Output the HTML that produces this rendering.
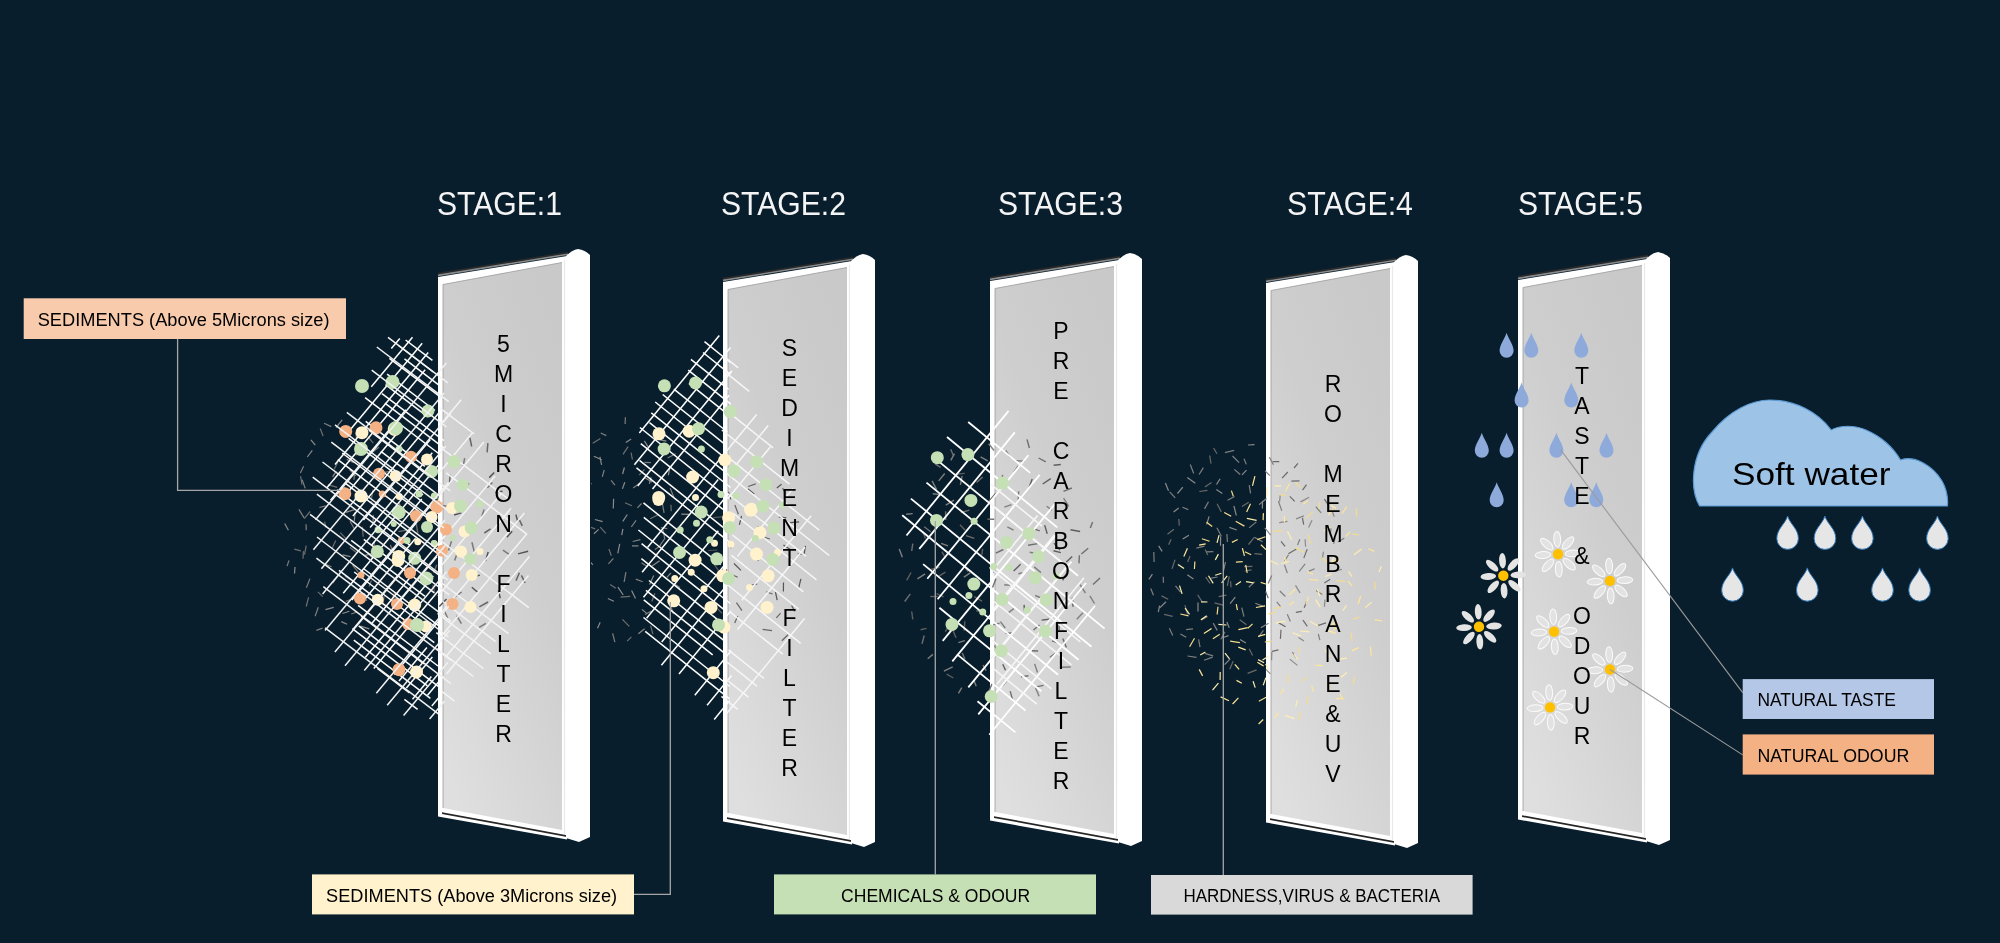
<!DOCTYPE html><html><head><meta charset="utf-8"><style>html,body{margin:0;padding:0;background:#081e2c;}svg{display:block;will-change:transform}</style></head><body>
<svg width="2000" height="943" viewBox="0 0 2000 943">
<defs>
<linearGradient id="gpanel" x1="0.8" y1="0" x2="0.2" y2="1">
<stop offset="0" stop-color="#c9c9c9"/><stop offset="0.4" stop-color="#cecece"/><stop offset="1" stop-color="#dfdfdf"/>
</linearGradient>
<linearGradient id="bevel" x1="0" y1="0" x2="0" y2="1">
<stop offset="0" stop-color="#101c24"/><stop offset="0.45" stop-color="#3c3c3c"/><stop offset="0.8" stop-color="#9a9a9a"/><stop offset="1" stop-color="#f0f0f0"/>
</linearGradient>
</defs>
<rect width="2000" height="943" fill="#081e2c"/>
<text x="437.0" y="215" font-family='"Liberation Sans", sans-serif' font-size="33" fill="#f4f4f4" textLength="125.0" lengthAdjust="spacingAndGlyphs">STAGE:1</text>
<text x="721.0" y="215" font-family='"Liberation Sans", sans-serif' font-size="33" fill="#f4f4f4" textLength="125.0" lengthAdjust="spacingAndGlyphs">STAGE:2</text>
<text x="998.0" y="215" font-family='"Liberation Sans", sans-serif' font-size="33" fill="#f4f4f4" textLength="125.0" lengthAdjust="spacingAndGlyphs">STAGE:3</text>
<text x="1287.0" y="215" font-family='"Liberation Sans", sans-serif' font-size="33" fill="#f4f4f4" textLength="126.0" lengthAdjust="spacingAndGlyphs">STAGE:4</text>
<text x="1518.0" y="215" font-family='"Liberation Sans", sans-serif' font-size="33" fill="#f4f4f4" textLength="125.0" lengthAdjust="spacingAndGlyphs">STAGE:5</text>
<polyline points="438.0,273.7 568.0,252.5" fill="none" stroke="#2a2a2a" stroke-width="1.7"/>
<polyline points="438.0,275.4 568.0,254.2" fill="none" stroke="#8c8c8c" stroke-width="1.6"/>
<polygon points="438.0,277.0 567.0,256.0 567.0,839.5 438.0,816.5" fill="#ffffff"/>
<polygon points="443.0,284.5 562.0,262.5 562.0,830.0 443.0,808.0" fill="url(#gpanel)"/>
<polyline points="443.0,808.0 443.0,284.5 562.0,262.5" fill="none" stroke="#9a9a9a" stroke-width="0.8"/>
<polyline points="564.5,260.0 564.5,834.0" fill="none" stroke="#e9e9e9" stroke-width="1.2"/>
<polygon points="442.0,812.2 567.0,835.2 567.0,836.9 442.0,813.9" fill="#262626"/>
<path d="M566.0,256.0 Q572.0,250.0 578.0,249.0 Q585.0,250.0 590.0,255.0 L590.0,837.0 L579.0,842.0 L566.0,838.0 Z" fill="#ffffff"/>
<polyline points="723.0,278.7 853.0,257.5" fill="none" stroke="#2a2a2a" stroke-width="1.7"/>
<polyline points="723.0,280.4 853.0,259.2" fill="none" stroke="#8c8c8c" stroke-width="1.6"/>
<polygon points="723.0,282.0 852.0,261.0 852.0,844.5 723.0,821.5" fill="#ffffff"/>
<polygon points="728.0,289.5 847.0,267.5 847.0,835.0 728.0,813.0" fill="url(#gpanel)"/>
<polyline points="728.0,813.0 728.0,289.5 847.0,267.5" fill="none" stroke="#9a9a9a" stroke-width="0.8"/>
<polyline points="849.5,265.0 849.5,839.0" fill="none" stroke="#e9e9e9" stroke-width="1.2"/>
<polygon points="727.0,817.2 852.0,840.2 852.0,841.9 727.0,818.9" fill="#262626"/>
<path d="M851.0,261.0 Q857.0,255.0 863.0,254.0 Q870.0,255.0 875.0,260.0 L875.0,842.0 L864.0,847.0 L851.0,843.0 Z" fill="#ffffff"/>
<polyline points="990.0,277.7 1120.0,256.5" fill="none" stroke="#2a2a2a" stroke-width="1.7"/>
<polyline points="990.0,279.4 1120.0,258.2" fill="none" stroke="#8c8c8c" stroke-width="1.6"/>
<polygon points="990.0,281.0 1119.0,260.0 1119.0,843.5 990.0,820.5" fill="#ffffff"/>
<polygon points="995.0,288.5 1114.0,266.5 1114.0,834.0 995.0,812.0" fill="url(#gpanel)"/>
<polyline points="995.0,812.0 995.0,288.5 1114.0,266.5" fill="none" stroke="#9a9a9a" stroke-width="0.8"/>
<polyline points="1116.5,264.0 1116.5,838.0" fill="none" stroke="#e9e9e9" stroke-width="1.2"/>
<polygon points="994.0,816.2 1119.0,839.2 1119.0,840.9 994.0,817.9" fill="#262626"/>
<path d="M1118.0,260.0 Q1124.0,254.0 1130.0,253.0 Q1137.0,254.0 1142.0,259.0 L1142.0,841.0 L1131.0,846.0 L1118.0,842.0 Z" fill="#ffffff"/>
<polyline points="1266.0,279.7 1396.0,258.5" fill="none" stroke="#2a2a2a" stroke-width="1.7"/>
<polyline points="1266.0,281.4 1396.0,260.2" fill="none" stroke="#8c8c8c" stroke-width="1.6"/>
<polygon points="1266.0,283.0 1395.0,262.0 1395.0,845.5 1266.0,822.5" fill="#ffffff"/>
<polygon points="1271.0,290.5 1390.0,268.5 1390.0,836.0 1271.0,814.0" fill="url(#gpanel)"/>
<polyline points="1271.0,814.0 1271.0,290.5 1390.0,268.5" fill="none" stroke="#9a9a9a" stroke-width="0.8"/>
<polyline points="1392.5,266.0 1392.5,840.0" fill="none" stroke="#e9e9e9" stroke-width="1.2"/>
<polygon points="1270.0,818.2 1395.0,841.2 1395.0,842.9 1270.0,819.9" fill="#262626"/>
<path d="M1394.0,262.0 Q1400.0,256.0 1406.0,255.0 Q1413.0,256.0 1418.0,261.0 L1418.0,843.0 L1407.0,848.0 L1394.0,844.0 Z" fill="#ffffff"/>
<polyline points="1518.0,276.7 1648.0,255.5" fill="none" stroke="#2a2a2a" stroke-width="1.7"/>
<polyline points="1518.0,278.4 1648.0,257.2" fill="none" stroke="#8c8c8c" stroke-width="1.6"/>
<polygon points="1518.0,280.0 1647.0,259.0 1647.0,842.5 1518.0,819.5" fill="#ffffff"/>
<polygon points="1523.0,287.5 1642.0,265.5 1642.0,833.0 1523.0,811.0" fill="url(#gpanel)"/>
<polyline points="1523.0,811.0 1523.0,287.5 1642.0,265.5" fill="none" stroke="#9a9a9a" stroke-width="0.8"/>
<polyline points="1644.5,263.0 1644.5,837.0" fill="none" stroke="#e9e9e9" stroke-width="1.2"/>
<polygon points="1522.0,815.2 1647.0,838.2 1647.0,839.9 1522.0,816.9" fill="#262626"/>
<path d="M1646.0,259.0 Q1652.0,253.0 1658.0,252.0 Q1665.0,253.0 1670.0,258.0 L1670.0,840.0 L1659.0,845.0 L1646.0,841.0 Z" fill="#ffffff"/>
<g id="s1">
<line x1="324.0" y1="423.3" x2="331.3" y2="426.6" stroke="#7f7f7f" stroke-width="1.2"/>
<line x1="342.2" y1="419.8" x2="336.1" y2="427.6" stroke="#8c8c8c" stroke-width="1.2"/>
<line x1="366.4" y1="426.8" x2="361.0" y2="430.2" stroke="#8c8c8c" stroke-width="1.2"/>
<line x1="310.9" y1="439.9" x2="315.3" y2="445.1" stroke="#8c8c8c" stroke-width="1.2"/>
<line x1="320.2" y1="428.5" x2="323.1" y2="436.0" stroke="#6f6f6f" stroke-width="1.2"/>
<line x1="342.4" y1="429.1" x2="347.5" y2="436.9" stroke="#6f6f6f" stroke-width="1.2"/>
<line x1="355.8" y1="433.0" x2="356.7" y2="439.2" stroke="#7f7f7f" stroke-width="1.2"/>
<line x1="367.8" y1="436.7" x2="373.2" y2="443.1" stroke="#6f6f6f" stroke-width="1.2"/>
<line x1="312.3" y1="450.4" x2="307.3" y2="457.0" stroke="#8c8c8c" stroke-width="1.2"/>
<line x1="337.8" y1="462.2" x2="334.1" y2="469.6" stroke="#6f6f6f" stroke-width="1.2"/>
<line x1="346.7" y1="459.4" x2="353.8" y2="462.7" stroke="#7f7f7f" stroke-width="1.2"/>
<line x1="361.0" y1="450.6" x2="355.7" y2="455.2" stroke="#7f7f7f" stroke-width="1.2"/>
<line x1="378.9" y1="447.2" x2="370.9" y2="453.2" stroke="#7f7f7f" stroke-width="1.2"/>
<line x1="300.6" y1="476.2" x2="302.0" y2="484.6" stroke="#6f6f6f" stroke-width="1.2"/>
<line x1="303.6" y1="466.2" x2="300.4" y2="472.9" stroke="#7f7f7f" stroke-width="1.2"/>
<line x1="336.3" y1="471.1" x2="332.6" y2="476.8" stroke="#8c8c8c" stroke-width="1.2"/>
<line x1="349.6" y1="469.6" x2="355.7" y2="475.9" stroke="#8c8c8c" stroke-width="1.2"/>
<line x1="354.6" y1="473.6" x2="353.9" y2="479.8" stroke="#7f7f7f" stroke-width="1.2"/>
<line x1="380.8" y1="467.8" x2="385.7" y2="473.4" stroke="#6f6f6f" stroke-width="1.2"/>
<line x1="392.4" y1="471.0" x2="384.5" y2="472.3" stroke="#7f7f7f" stroke-width="1.2"/>
<line x1="302.2" y1="479.7" x2="305.2" y2="488.4" stroke="#7f7f7f" stroke-width="1.2"/>
<line x1="327.9" y1="484.7" x2="337.2" y2="487.3" stroke="#6f6f6f" stroke-width="1.2"/>
<line x1="344.2" y1="486.9" x2="346.9" y2="494.3" stroke="#7f7f7f" stroke-width="1.2"/>
<line x1="358.1" y1="491.0" x2="354.4" y2="499.9" stroke="#8c8c8c" stroke-width="1.2"/>
<line x1="372.9" y1="489.7" x2="371.6" y2="498.2" stroke="#6f6f6f" stroke-width="1.2"/>
<line x1="392.9" y1="487.2" x2="385.1" y2="493.1" stroke="#8c8c8c" stroke-width="1.2"/>
<line x1="298.9" y1="509.4" x2="304.1" y2="517.9" stroke="#7f7f7f" stroke-width="1.2"/>
<line x1="310.1" y1="511.5" x2="304.2" y2="518.6" stroke="#6f6f6f" stroke-width="1.2"/>
<line x1="325.7" y1="505.9" x2="319.4" y2="507.5" stroke="#7f7f7f" stroke-width="1.2"/>
<line x1="355.2" y1="509.4" x2="345.8" y2="512.4" stroke="#8c8c8c" stroke-width="1.2"/>
<line x1="355.2" y1="512.3" x2="354.2" y2="521.4" stroke="#8c8c8c" stroke-width="1.2"/>
<line x1="370.6" y1="501.1" x2="376.6" y2="507.6" stroke="#7f7f7f" stroke-width="1.2"/>
<line x1="398.7" y1="502.8" x2="401.6" y2="508.4" stroke="#8c8c8c" stroke-width="1.2"/>
<line x1="284.7" y1="523.5" x2="288.4" y2="530.3" stroke="#8c8c8c" stroke-width="1.2"/>
<line x1="306.0" y1="524.2" x2="306.3" y2="530.3" stroke="#7f7f7f" stroke-width="1.2"/>
<line x1="324.6" y1="521.7" x2="326.0" y2="527.7" stroke="#6f6f6f" stroke-width="1.2"/>
<line x1="350.0" y1="521.3" x2="354.6" y2="529.2" stroke="#7f7f7f" stroke-width="1.2"/>
<line x1="362.3" y1="526.8" x2="363.2" y2="536.7" stroke="#6f6f6f" stroke-width="1.2"/>
<line x1="373.4" y1="515.3" x2="372.9" y2="524.0" stroke="#8c8c8c" stroke-width="1.2"/>
<line x1="406.4" y1="530.2" x2="398.5" y2="531.6" stroke="#6f6f6f" stroke-width="1.2"/>
<line x1="294.3" y1="549.1" x2="300.9" y2="550.9" stroke="#6f6f6f" stroke-width="1.2"/>
<line x1="306.2" y1="545.6" x2="304.5" y2="554.7" stroke="#6f6f6f" stroke-width="1.2"/>
<line x1="335.7" y1="540.6" x2="332.3" y2="547.9" stroke="#6f6f6f" stroke-width="1.2"/>
<line x1="340.2" y1="532.6" x2="346.2" y2="538.9" stroke="#6f6f6f" stroke-width="1.2"/>
<line x1="349.9" y1="547.5" x2="357.4" y2="553.2" stroke="#6f6f6f" stroke-width="1.2"/>
<line x1="374.4" y1="541.8" x2="373.7" y2="550.1" stroke="#7f7f7f" stroke-width="1.2"/>
<line x1="390.5" y1="544.9" x2="392.3" y2="551.1" stroke="#7f7f7f" stroke-width="1.2"/>
<line x1="289.0" y1="560.4" x2="287.0" y2="566.1" stroke="#7f7f7f" stroke-width="1.2"/>
<line x1="303.4" y1="551.1" x2="303.0" y2="558.7" stroke="#6f6f6f" stroke-width="1.2"/>
<line x1="325.6" y1="564.3" x2="331.5" y2="566.7" stroke="#7f7f7f" stroke-width="1.2"/>
<line x1="342.5" y1="554.9" x2="350.4" y2="556.6" stroke="#8c8c8c" stroke-width="1.2"/>
<line x1="373.1" y1="553.3" x2="364.1" y2="555.6" stroke="#8c8c8c" stroke-width="1.2"/>
<line x1="367.7" y1="552.6" x2="372.9" y2="558.5" stroke="#7f7f7f" stroke-width="1.2"/>
<line x1="392.3" y1="547.8" x2="396.9" y2="556.2" stroke="#8c8c8c" stroke-width="1.2"/>
<line x1="295.0" y1="567.0" x2="294.5" y2="573.5" stroke="#8c8c8c" stroke-width="1.2"/>
<line x1="309.9" y1="578.6" x2="306.4" y2="587.7" stroke="#7f7f7f" stroke-width="1.2"/>
<line x1="338.6" y1="575.2" x2="332.7" y2="583.2" stroke="#7f7f7f" stroke-width="1.2"/>
<line x1="344.9" y1="576.0" x2="350.6" y2="579.9" stroke="#6f6f6f" stroke-width="1.2"/>
<line x1="352.6" y1="565.1" x2="358.2" y2="572.1" stroke="#7f7f7f" stroke-width="1.2"/>
<line x1="371.5" y1="580.5" x2="369.1" y2="586.5" stroke="#6f6f6f" stroke-width="1.2"/>
<line x1="308.6" y1="597.4" x2="306.2" y2="606.5" stroke="#6f6f6f" stroke-width="1.2"/>
<line x1="317.9" y1="591.9" x2="322.7" y2="596.7" stroke="#6f6f6f" stroke-width="1.2"/>
<line x1="351.4" y1="599.2" x2="345.7" y2="601.4" stroke="#6f6f6f" stroke-width="1.2"/>
<line x1="364.4" y1="593.1" x2="366.6" y2="600.9" stroke="#7f7f7f" stroke-width="1.2"/>
<line x1="384.1" y1="595.9" x2="382.9" y2="605.3" stroke="#6f6f6f" stroke-width="1.2"/>
<line x1="394.7" y1="593.0" x2="391.3" y2="600.3" stroke="#6f6f6f" stroke-width="1.2"/>
<line x1="318.3" y1="607.3" x2="315.1" y2="616.2" stroke="#7f7f7f" stroke-width="1.2"/>
<line x1="333.7" y1="607.4" x2="325.5" y2="609.6" stroke="#8c8c8c" stroke-width="1.2"/>
<line x1="349.4" y1="611.3" x2="342.4" y2="613.5" stroke="#8c8c8c" stroke-width="1.2"/>
<line x1="357.6" y1="611.7" x2="351.2" y2="614.0" stroke="#7f7f7f" stroke-width="1.2"/>
<line x1="322.6" y1="628.1" x2="316.4" y2="630.4" stroke="#7f7f7f" stroke-width="1.2"/>
<line x1="341.3" y1="621.6" x2="347.1" y2="624.2" stroke="#8c8c8c" stroke-width="1.2"/>
<line x1="360.4" y1="626.1" x2="369.3" y2="628.9" stroke="#8c8c8c" stroke-width="1.2"/>
<line x1="469.8" y1="437.7" x2="471.7" y2="446.5" stroke="#666666" stroke-width="1.5"/>
<line x1="487.9" y1="443.1" x2="487.1" y2="452.4" stroke="#666666" stroke-width="1.5"/>
<line x1="450.2" y1="474.7" x2="449.4" y2="483.6" stroke="#666666" stroke-width="1.5"/>
<line x1="464.7" y1="458.2" x2="463.1" y2="466.2" stroke="#7a7a7a" stroke-width="1.5"/>
<line x1="494.2" y1="472.5" x2="489.2" y2="477.6" stroke="#555555" stroke-width="1.5"/>
<line x1="439.1" y1="493.4" x2="436.6" y2="502.6" stroke="#666666" stroke-width="1.5"/>
<line x1="469.1" y1="483.4" x2="462.9" y2="489.3" stroke="#666666" stroke-width="1.5"/>
<line x1="492.4" y1="482.5" x2="487.4" y2="487.7" stroke="#7a7a7a" stroke-width="1.5"/>
<line x1="502.5" y1="491.3" x2="495.3" y2="492.5" stroke="#555555" stroke-width="1.5"/>
<line x1="413.6" y1="508.9" x2="415.5" y2="517.6" stroke="#555555" stroke-width="1.5"/>
<line x1="441.8" y1="505.5" x2="449.1" y2="506.5" stroke="#7a7a7a" stroke-width="1.5"/>
<line x1="461.4" y1="512.9" x2="454.1" y2="515.0" stroke="#555555" stroke-width="1.5"/>
<line x1="484.1" y1="509.6" x2="481.7" y2="516.7" stroke="#7a7a7a" stroke-width="1.5"/>
<line x1="515.9" y1="514.6" x2="517.8" y2="521.9" stroke="#555555" stroke-width="1.5"/>
<line x1="518.9" y1="518.9" x2="522.3" y2="525.8" stroke="#666666" stroke-width="1.5"/>
<line x1="416.2" y1="523.9" x2="417.9" y2="533.4" stroke="#666666" stroke-width="1.5"/>
<line x1="451.5" y1="541.3" x2="448.5" y2="550.4" stroke="#7a7a7a" stroke-width="1.5"/>
<line x1="471.9" y1="542.3" x2="474.4" y2="552.1" stroke="#7a7a7a" stroke-width="1.5"/>
<line x1="490.6" y1="528.9" x2="484.3" y2="533.0" stroke="#666666" stroke-width="1.5"/>
<line x1="512.2" y1="531.3" x2="506.9" y2="537.2" stroke="#555555" stroke-width="1.5"/>
<line x1="412.6" y1="560.6" x2="412.5" y2="568.8" stroke="#7a7a7a" stroke-width="1.5"/>
<line x1="436.8" y1="564.9" x2="433.6" y2="572.7" stroke="#666666" stroke-width="1.5"/>
<line x1="458.0" y1="551.0" x2="454.6" y2="560.4" stroke="#7a7a7a" stroke-width="1.5"/>
<line x1="488.2" y1="552.0" x2="485.5" y2="561.1" stroke="#555555" stroke-width="1.5"/>
<line x1="502.9" y1="550.2" x2="509.5" y2="554.7" stroke="#7a7a7a" stroke-width="1.5"/>
<line x1="528.1" y1="551.2" x2="518.0" y2="553.9" stroke="#555555" stroke-width="1.5"/>
<line x1="428.7" y1="573.6" x2="425.9" y2="580.0" stroke="#666666" stroke-width="1.5"/>
<line x1="432.8" y1="584.9" x2="435.0" y2="594.1" stroke="#555555" stroke-width="1.5"/>
<line x1="471.8" y1="587.2" x2="478.0" y2="592.5" stroke="#555555" stroke-width="1.5"/>
<line x1="479.9" y1="575.1" x2="472.5" y2="577.2" stroke="#555555" stroke-width="1.5"/>
<line x1="519.4" y1="572.8" x2="516.0" y2="580.6" stroke="#666666" stroke-width="1.5"/>
<line x1="521.4" y1="575.3" x2="525.1" y2="582.8" stroke="#666666" stroke-width="1.5"/>
<line x1="446.5" y1="599.0" x2="439.3" y2="606.5" stroke="#555555" stroke-width="1.5"/>
<line x1="461.6" y1="592.0" x2="454.5" y2="597.1" stroke="#7a7a7a" stroke-width="1.5"/>
<line x1="488.1" y1="602.0" x2="479.3" y2="606.9" stroke="#666666" stroke-width="1.5"/>
<line x1="498.4" y1="590.4" x2="500.3" y2="598.2" stroke="#555555" stroke-width="1.5"/>
<line x1="443.9" y1="609.5" x2="447.7" y2="618.3" stroke="#7a7a7a" stroke-width="1.5"/>
<line x1="456.6" y1="615.7" x2="461.4" y2="623.6" stroke="#7a7a7a" stroke-width="1.5"/>
<line x1="485.8" y1="623.4" x2="479.2" y2="627.4" stroke="#7a7a7a" stroke-width="1.5"/>
<line x1="391.3" y1="348.6" x2="399.8" y2="338.4" stroke="#ffffff" stroke-width="1.5"/>
<line x1="371.3" y1="386.7" x2="412.5" y2="337.3" stroke="#ffffff" stroke-width="1.5"/>
<line x1="349.4" y1="430.7" x2="422.2" y2="343.3" stroke="#ffffff" stroke-width="1.5"/>
<line x1="335.0" y1="464.4" x2="428.2" y2="352.6" stroke="#ffffff" stroke-width="1.5"/>
<line x1="326.7" y1="487.9" x2="425.2" y2="369.7" stroke="#ffffff" stroke-width="1.5"/>
<line x1="330.6" y1="500.2" x2="405.9" y2="409.8" stroke="#ffffff" stroke-width="1.5"/>
<line x1="344.1" y1="496.8" x2="401.5" y2="428.0" stroke="#ffffff" stroke-width="1.5"/>
<line x1="352.9" y1="516.0" x2="440.9" y2="410.4" stroke="#ffffff" stroke-width="1.5"/>
<line x1="363.4" y1="519.9" x2="430.3" y2="439.6" stroke="#ffffff" stroke-width="1.5"/>
<line x1="370.1" y1="527.5" x2="432.3" y2="452.8" stroke="#ffffff" stroke-width="1.5"/>
<line x1="371.7" y1="545.1" x2="438.9" y2="464.4" stroke="#ffffff" stroke-width="1.5"/>
<line x1="343.2" y1="593.3" x2="421.8" y2="498.9" stroke="#ffffff" stroke-width="1.5"/>
<line x1="351.8" y1="600.1" x2="432.4" y2="503.4" stroke="#ffffff" stroke-width="1.5"/>
<line x1="365.8" y1="598.0" x2="415.6" y2="538.3" stroke="#ffffff" stroke-width="1.5"/>
<line x1="353.3" y1="629.0" x2="406.2" y2="565.5" stroke="#ffffff" stroke-width="1.5"/>
<line x1="371.1" y1="624.2" x2="444.2" y2="536.5" stroke="#ffffff" stroke-width="1.5"/>
<line x1="394.7" y1="607.1" x2="436.9" y2="556.5" stroke="#ffffff" stroke-width="1.5"/>
<line x1="365.2" y1="657.6" x2="433.3" y2="576.0" stroke="#ffffff" stroke-width="1.5"/>
<line x1="373.8" y1="668.4" x2="440.3" y2="588.6" stroke="#ffffff" stroke-width="1.5"/>
<line x1="394.0" y1="674.5" x2="438.5" y2="621.2" stroke="#ffffff" stroke-width="1.5"/>
<line x1="399.0" y1="681.0" x2="426.9" y2="647.5" stroke="#ffffff" stroke-width="1.5"/>
<line x1="406.4" y1="688.1" x2="432.4" y2="656.9" stroke="#ffffff" stroke-width="1.5"/>
<line x1="412.5" y1="699.3" x2="431.4" y2="676.6" stroke="#ffffff" stroke-width="1.5"/>
<line x1="427.5" y1="695.2" x2="443.4" y2="676.2" stroke="#ffffff" stroke-width="1.5"/>
<line x1="431.8" y1="706.0" x2="441.8" y2="694.0" stroke="#ffffff" stroke-width="1.5"/>
<line x1="405.6" y1="340.0" x2="432.4" y2="360.4" stroke="#ffffff" stroke-width="1.5"/>
<line x1="398.5" y1="345.5" x2="433.3" y2="372.0" stroke="#ffffff" stroke-width="1.5"/>
<line x1="404.5" y1="358.9" x2="441.6" y2="387.1" stroke="#ffffff" stroke-width="1.5"/>
<line x1="389.4" y1="358.3" x2="440.6" y2="397.2" stroke="#ffffff" stroke-width="1.5"/>
<line x1="387.1" y1="374.2" x2="434.9" y2="410.5" stroke="#ffffff" stroke-width="1.5"/>
<line x1="385.5" y1="384.7" x2="427.8" y2="416.8" stroke="#ffffff" stroke-width="1.5"/>
<line x1="382.0" y1="393.6" x2="443.8" y2="440.6" stroke="#ffffff" stroke-width="1.5"/>
<line x1="384.9" y1="403.1" x2="443.8" y2="447.9" stroke="#ffffff" stroke-width="1.5"/>
<line x1="365.1" y1="397.7" x2="441.9" y2="456.0" stroke="#ffffff" stroke-width="1.5"/>
<line x1="365.7" y1="421.3" x2="424.9" y2="466.3" stroke="#ffffff" stroke-width="1.5"/>
<line x1="368.8" y1="430.2" x2="429.3" y2="476.3" stroke="#ffffff" stroke-width="1.5"/>
<line x1="380.9" y1="451.3" x2="440.9" y2="496.8" stroke="#ffffff" stroke-width="1.5"/>
<line x1="348.6" y1="438.3" x2="423.0" y2="494.8" stroke="#ffffff" stroke-width="1.5"/>
<line x1="382.5" y1="471.5" x2="438.1" y2="513.7" stroke="#ffffff" stroke-width="1.5"/>
<line x1="342.2" y1="453.0" x2="442.7" y2="529.4" stroke="#ffffff" stroke-width="1.5"/>
<line x1="337.8" y1="459.6" x2="413.9" y2="517.4" stroke="#ffffff" stroke-width="1.5"/>
<line x1="344.8" y1="482.9" x2="440.7" y2="555.9" stroke="#ffffff" stroke-width="1.5"/>
<line x1="336.9" y1="489.8" x2="410.1" y2="545.4" stroke="#ffffff" stroke-width="1.5"/>
<line x1="380.1" y1="530.3" x2="443.7" y2="578.6" stroke="#ffffff" stroke-width="1.5"/>
<line x1="363.8" y1="539.3" x2="434.3" y2="592.9" stroke="#ffffff" stroke-width="1.5"/>
<line x1="351.2" y1="540.4" x2="425.0" y2="596.4" stroke="#ffffff" stroke-width="1.5"/>
<line x1="363.4" y1="568.5" x2="440.8" y2="627.4" stroke="#ffffff" stroke-width="1.5"/>
<line x1="354.2" y1="572.0" x2="431.1" y2="630.5" stroke="#ffffff" stroke-width="1.5"/>
<line x1="339.0" y1="570.3" x2="434.3" y2="642.7" stroke="#ffffff" stroke-width="1.5"/>
<line x1="358.1" y1="605.3" x2="438.0" y2="666.0" stroke="#ffffff" stroke-width="1.5"/>
<line x1="361.1" y1="616.1" x2="423.9" y2="663.9" stroke="#ffffff" stroke-width="1.5"/>
<line x1="358.7" y1="625.8" x2="440.3" y2="687.9" stroke="#ffffff" stroke-width="1.5"/>
<line x1="352.3" y1="628.6" x2="427.4" y2="685.8" stroke="#ffffff" stroke-width="1.5"/>
<line x1="353.8" y1="640.1" x2="430.4" y2="698.3" stroke="#ffffff" stroke-width="1.5"/>
<line x1="377.4" y1="668.3" x2="409.5" y2="692.8" stroke="#ffffff" stroke-width="1.5"/>
<line x1="404.4" y1="699.4" x2="417.6" y2="709.4" stroke="#ffffff" stroke-width="1.5"/>
<line x1="440.3" y1="424.8" x2="461.2" y2="399.8" stroke="#f4f4f4" stroke-width="1.5"/>
<line x1="438.6" y1="473.5" x2="472.9" y2="432.3" stroke="#f4f4f4" stroke-width="1.5"/>
<line x1="438.7" y1="496.2" x2="483.9" y2="442.0" stroke="#f4f4f4" stroke-width="1.5"/>
<line x1="438.7" y1="543.6" x2="495.1" y2="475.9" stroke="#f4f4f4" stroke-width="1.5"/>
<line x1="440.7" y1="566.4" x2="501.6" y2="493.3" stroke="#f4f4f4" stroke-width="1.5"/>
<line x1="438.0" y1="596.0" x2="511.0" y2="508.3" stroke="#f4f4f4" stroke-width="1.5"/>
<line x1="439.0" y1="615.5" x2="524.4" y2="513.1" stroke="#f4f4f4" stroke-width="1.5"/>
<line x1="440.1" y1="637.7" x2="526.9" y2="533.7" stroke="#f4f4f4" stroke-width="1.5"/>
<line x1="446.4" y1="656.1" x2="529.4" y2="556.4" stroke="#f4f4f4" stroke-width="1.5"/>
<line x1="446.4" y1="674.1" x2="528.5" y2="575.6" stroke="#f4f4f4" stroke-width="1.5"/>
<line x1="439.1" y1="407.4" x2="474.2" y2="434.0" stroke="#f4f4f4" stroke-width="1.5"/>
<line x1="440.1" y1="447.1" x2="509.1" y2="499.6" stroke="#f4f4f4" stroke-width="1.5"/>
<line x1="446.2" y1="472.8" x2="527.1" y2="534.3" stroke="#f4f4f4" stroke-width="1.5"/>
<line x1="439.1" y1="539.5" x2="528.8" y2="607.6" stroke="#f4f4f4" stroke-width="1.5"/>
<line x1="438.3" y1="580.5" x2="508.4" y2="633.7" stroke="#f4f4f4" stroke-width="1.5"/>
<line x1="442.8" y1="601.5" x2="495.7" y2="641.7" stroke="#f4f4f4" stroke-width="1.5"/>
<line x1="437.5" y1="613.4" x2="490.8" y2="653.8" stroke="#f4f4f4" stroke-width="1.5"/>
<line x1="436.3" y1="632.7" x2="483.4" y2="668.5" stroke="#f4f4f4" stroke-width="1.5"/>
<line x1="436.7" y1="648.6" x2="473.4" y2="676.5" stroke="#f4f4f4" stroke-width="1.5"/>
<line x1="441.4" y1="691.1" x2="454.6" y2="701.1" stroke="#f4f4f4" stroke-width="1.5"/>
<circle cx="345.7" cy="431.4" r="6.5" fill="#f4b183"/>
<circle cx="376.0" cy="427.8" r="6.5" fill="#f4b183"/>
<circle cx="411.0" cy="456.7" r="6.0" fill="#f4b183"/>
<circle cx="379.0" cy="473.7" r="6.0" fill="#f4b183"/>
<circle cx="344.8" cy="493.7" r="6.5" fill="#f4b183"/>
<circle cx="416.0" cy="516.0" r="6.0" fill="#f4b183"/>
<circle cx="446.0" cy="529.4" r="6.0" fill="#f4b183"/>
<circle cx="442.0" cy="550.7" r="6.0" fill="#f4b183"/>
<circle cx="410.0" cy="573.0" r="6.0" fill="#f4b183"/>
<circle cx="454.0" cy="573.0" r="6.0" fill="#f4b183"/>
<circle cx="360.0" cy="598.4" r="6.0" fill="#f4b183"/>
<circle cx="397.0" cy="604.0" r="6.0" fill="#f4b183"/>
<circle cx="452.6" cy="604.0" r="6.0" fill="#f4b183"/>
<circle cx="408.0" cy="624.0" r="6.0" fill="#f4b183"/>
<circle cx="399.0" cy="669.7" r="6.5" fill="#f4b183"/>
<circle cx="361.0" cy="575.0" r="3.5" fill="#f4b183"/>
<circle cx="436.9" cy="506.8" r="6.5" fill="#f4b183"/>
<circle cx="382.2" cy="494.1" r="3.5" fill="#f4b183"/>
<circle cx="401.3" cy="540.5" r="3.5" fill="#f4b183"/>
<circle cx="362.0" cy="432.7" r="6.5" fill="#fff2cc"/>
<circle cx="394.7" cy="429.0" r="7.0" fill="#fff2cc"/>
<circle cx="395.6" cy="476.0" r="6.0" fill="#fff2cc"/>
<circle cx="427.0" cy="459.4" r="6.0" fill="#fff2cc"/>
<circle cx="361.0" cy="496.0" r="6.5" fill="#fff2cc"/>
<circle cx="431.6" cy="517.0" r="6.0" fill="#fff2cc"/>
<circle cx="452.0" cy="508.0" r="6.0" fill="#fff2cc"/>
<circle cx="464.6" cy="531.6" r="6.0" fill="#fff2cc"/>
<circle cx="398.0" cy="560.5" r="6.5" fill="#fff2cc"/>
<circle cx="461.0" cy="551.6" r="6.0" fill="#fff2cc"/>
<circle cx="471.7" cy="575.0" r="6.0" fill="#fff2cc"/>
<circle cx="377.7" cy="599.7" r="6.0" fill="#fff2cc"/>
<circle cx="414.7" cy="605.0" r="6.5" fill="#fff2cc"/>
<circle cx="470.4" cy="607.0" r="6.0" fill="#fff2cc"/>
<circle cx="425.9" cy="626.5" r="6.0" fill="#fff2cc"/>
<circle cx="416.5" cy="672.0" r="6.5" fill="#fff2cc"/>
<circle cx="480.0" cy="551.6" r="3.5" fill="#fff2cc"/>
<circle cx="398.7" cy="556.4" r="6.5" fill="#fff2cc"/>
<circle cx="399.3" cy="496.6" r="3.5" fill="#fff2cc"/>
<circle cx="417.8" cy="541.8" r="3.5" fill="#fff2cc"/>
<circle cx="434.3" cy="543.7" r="3.5" fill="#fff2cc"/>
<circle cx="362.0" cy="386.0" r="7.0" fill="#c5e0b4"/>
<circle cx="392.5" cy="382.0" r="7.0" fill="#c5e0b4"/>
<circle cx="428.0" cy="411.0" r="6.5" fill="#c5e0b4"/>
<circle cx="396.0" cy="428.0" r="7.0" fill="#c5e0b4"/>
<circle cx="361.0" cy="449.0" r="7.0" fill="#c5e0b4"/>
<circle cx="431.6" cy="471.4" r="6.5" fill="#c5e0b4"/>
<circle cx="454.0" cy="461.6" r="6.5" fill="#c5e0b4"/>
<circle cx="462.8" cy="484.8" r="6.0" fill="#c5e0b4"/>
<circle cx="460.6" cy="506.0" r="6.5" fill="#c5e0b4"/>
<circle cx="398.7" cy="512.4" r="7.0" fill="#c5e0b4"/>
<circle cx="427.0" cy="527.0" r="6.0" fill="#c5e0b4"/>
<circle cx="377.3" cy="551.6" r="6.5" fill="#c5e0b4"/>
<circle cx="414.7" cy="558.3" r="6.5" fill="#c5e0b4"/>
<circle cx="426.3" cy="578.4" r="7.0" fill="#c5e0b4"/>
<circle cx="470.4" cy="559.0" r="6.0" fill="#c5e0b4"/>
<circle cx="417.0" cy="625.0" r="7.0" fill="#c5e0b4"/>
<circle cx="399.0" cy="449.0" r="3.5" fill="#c5e0b4"/>
<circle cx="419.0" cy="494.0" r="3.5" fill="#c5e0b4"/>
<circle cx="393.8" cy="524.0" r="3.0" fill="#c5e0b4"/>
<circle cx="407.0" cy="540.5" r="3.5" fill="#c5e0b4"/>
<circle cx="480.0" cy="504.0" r="3.5" fill="#c5e0b4"/>
<circle cx="452.6" cy="538.0" r="3.0" fill="#c5e0b4"/>
<circle cx="434.0" cy="543.0" r="3.0" fill="#c5e0b4"/>
<circle cx="471.2" cy="527.8" r="6.5" fill="#c5e0b4"/>
<circle cx="434.3" cy="496.0" r="3.5" fill="#c5e0b4"/>
<circle cx="378.1" cy="529.7" r="3.5" fill="#c5e0b4"/>
<line x1="315.5" y1="519.8" x2="446.3" y2="362.9" stroke="#f2f2f2" stroke-width="1.5"/>
<line x1="313.4" y1="549.7" x2="444.1" y2="392.9" stroke="#f2f2f2" stroke-width="1.5"/>
<line x1="321.4" y1="568.7" x2="451.0" y2="413.1" stroke="#f2f2f2" stroke-width="1.5"/>
<line x1="322.6" y1="594.1" x2="445.7" y2="446.3" stroke="#f2f2f2" stroke-width="1.5"/>
<line x1="325.0" y1="630.6" x2="448.5" y2="482.3" stroke="#f2f2f2" stroke-width="1.5"/>
<line x1="334.9" y1="651.9" x2="444.9" y2="519.9" stroke="#f2f2f2" stroke-width="1.5"/>
<line x1="345.0" y1="665.7" x2="445.1" y2="545.5" stroke="#f2f2f2" stroke-width="1.5"/>
<line x1="364.3" y1="670.5" x2="446.6" y2="571.8" stroke="#f2f2f2" stroke-width="1.5"/>
<line x1="376.3" y1="693.3" x2="448.8" y2="606.3" stroke="#f2f2f2" stroke-width="1.5"/>
<line x1="387.2" y1="705.3" x2="449.7" y2="630.2" stroke="#f2f2f2" stroke-width="1.5"/>
<line x1="403.6" y1="715.5" x2="447.8" y2="662.6" stroke="#f2f2f2" stroke-width="1.5"/>
<line x1="429.6" y1="719.1" x2="444.6" y2="701.1" stroke="#f2f2f2" stroke-width="1.5"/>
<line x1="388.0" y1="337.4" x2="447.8" y2="382.9" stroke="#f2f2f2" stroke-width="1.5"/>
<line x1="376.8" y1="347.0" x2="448.8" y2="401.7" stroke="#f2f2f2" stroke-width="1.5"/>
<line x1="371.7" y1="370.1" x2="446.3" y2="426.8" stroke="#f2f2f2" stroke-width="1.5"/>
<line x1="346.8" y1="412.3" x2="450.2" y2="490.9" stroke="#f2f2f2" stroke-width="1.5"/>
<line x1="335.0" y1="424.8" x2="448.3" y2="510.9" stroke="#f2f2f2" stroke-width="1.5"/>
<line x1="331.3" y1="442.2" x2="444.0" y2="527.9" stroke="#f2f2f2" stroke-width="1.5"/>
<line x1="322.5" y1="462.0" x2="448.7" y2="557.9" stroke="#f2f2f2" stroke-width="1.5"/>
<line x1="312.7" y1="477.1" x2="448.0" y2="580.0" stroke="#f2f2f2" stroke-width="1.5"/>
<line x1="316.9" y1="494.2" x2="449.2" y2="594.8" stroke="#f2f2f2" stroke-width="1.5"/>
<line x1="310.1" y1="514.3" x2="451.0" y2="621.4" stroke="#f2f2f2" stroke-width="1.5"/>
<line x1="317.0" y1="537.0" x2="448.6" y2="637.0" stroke="#f2f2f2" stroke-width="1.5"/>
<line x1="316.4" y1="558.1" x2="451.0" y2="660.4" stroke="#f2f2f2" stroke-width="1.5"/>
<line x1="323.3" y1="586.7" x2="450.9" y2="683.7" stroke="#f2f2f2" stroke-width="1.5"/>
<line x1="325.1" y1="627.9" x2="438.7" y2="714.2" stroke="#f2f2f2" stroke-width="1.5"/>
</g>
<clipPath id="c2"><rect x="591" y="0" width="1409" height="943"/></clipPath><g id="s2" clip-path="url(#c2)">
<line x1="625.4" y1="417.2" x2="625.1" y2="424.0" stroke="#7f7f7f" stroke-width="1.2"/>
<line x1="600.4" y1="438.4" x2="592.7" y2="443.2" stroke="#6f6f6f" stroke-width="1.2"/>
<line x1="600.7" y1="433.0" x2="606.3" y2="435.6" stroke="#7f7f7f" stroke-width="1.2"/>
<line x1="631.2" y1="439.0" x2="625.8" y2="442.4" stroke="#8c8c8c" stroke-width="1.2"/>
<line x1="644.4" y1="440.9" x2="647.9" y2="446.6" stroke="#8c8c8c" stroke-width="1.2"/>
<line x1="659.2" y1="439.6" x2="666.4" y2="441.2" stroke="#8c8c8c" stroke-width="1.2"/>
<line x1="593.8" y1="456.3" x2="601.7" y2="459.8" stroke="#8c8c8c" stroke-width="1.2"/>
<line x1="599.9" y1="456.9" x2="601.6" y2="464.9" stroke="#8c8c8c" stroke-width="1.2"/>
<line x1="628.1" y1="446.6" x2="623.0" y2="454.3" stroke="#6f6f6f" stroke-width="1.2"/>
<line x1="631.1" y1="452.7" x2="632.4" y2="459.5" stroke="#6f6f6f" stroke-width="1.2"/>
<line x1="644.5" y1="462.4" x2="650.9" y2="462.6" stroke="#7f7f7f" stroke-width="1.2"/>
<line x1="675.6" y1="453.7" x2="667.6" y2="458.0" stroke="#7f7f7f" stroke-width="1.2"/>
<line x1="577.8" y1="466.2" x2="583.9" y2="471.2" stroke="#6f6f6f" stroke-width="1.2"/>
<line x1="586.1" y1="470.7" x2="590.5" y2="475.6" stroke="#7f7f7f" stroke-width="1.2"/>
<line x1="604.2" y1="469.9" x2="602.3" y2="476.8" stroke="#7f7f7f" stroke-width="1.2"/>
<line x1="624.4" y1="467.5" x2="622.6" y2="474.0" stroke="#8c8c8c" stroke-width="1.2"/>
<line x1="644.5" y1="469.4" x2="639.2" y2="475.1" stroke="#6f6f6f" stroke-width="1.2"/>
<line x1="645.3" y1="477.9" x2="651.8" y2="481.9" stroke="#8c8c8c" stroke-width="1.2"/>
<line x1="670.0" y1="466.1" x2="668.4" y2="475.3" stroke="#8c8c8c" stroke-width="1.2"/>
<line x1="584.1" y1="486.0" x2="578.8" y2="490.4" stroke="#7f7f7f" stroke-width="1.2"/>
<line x1="585.7" y1="478.9" x2="591.8" y2="484.1" stroke="#6f6f6f" stroke-width="1.2"/>
<line x1="611.1" y1="480.3" x2="614.9" y2="485.2" stroke="#7f7f7f" stroke-width="1.2"/>
<line x1="624.8" y1="482.3" x2="622.4" y2="488.9" stroke="#8c8c8c" stroke-width="1.2"/>
<line x1="639.3" y1="483.5" x2="633.2" y2="488.0" stroke="#7f7f7f" stroke-width="1.2"/>
<line x1="651.1" y1="477.2" x2="649.4" y2="483.9" stroke="#8c8c8c" stroke-width="1.2"/>
<line x1="670.2" y1="488.3" x2="674.0" y2="497.4" stroke="#7f7f7f" stroke-width="1.2"/>
<line x1="573.1" y1="496.4" x2="581.4" y2="497.6" stroke="#8c8c8c" stroke-width="1.2"/>
<line x1="590.4" y1="506.7" x2="587.4" y2="512.5" stroke="#6f6f6f" stroke-width="1.2"/>
<line x1="613.6" y1="498.8" x2="613.3" y2="508.5" stroke="#8c8c8c" stroke-width="1.2"/>
<line x1="625.0" y1="502.8" x2="631.9" y2="505.8" stroke="#6f6f6f" stroke-width="1.2"/>
<line x1="641.5" y1="503.5" x2="637.4" y2="507.9" stroke="#7f7f7f" stroke-width="1.2"/>
<line x1="662.4" y1="503.7" x2="664.1" y2="512.8" stroke="#7f7f7f" stroke-width="1.2"/>
<line x1="670.9" y1="504.7" x2="671.3" y2="511.3" stroke="#6f6f6f" stroke-width="1.2"/>
<line x1="575.9" y1="524.2" x2="581.5" y2="527.3" stroke="#8c8c8c" stroke-width="1.2"/>
<line x1="589.0" y1="526.5" x2="595.2" y2="528.9" stroke="#6f6f6f" stroke-width="1.2"/>
<line x1="594.9" y1="519.5" x2="602.6" y2="521.6" stroke="#8c8c8c" stroke-width="1.2"/>
<line x1="627.3" y1="514.5" x2="622.8" y2="521.3" stroke="#8c8c8c" stroke-width="1.2"/>
<line x1="636.1" y1="520.3" x2="631.3" y2="527.0" stroke="#7f7f7f" stroke-width="1.2"/>
<line x1="658.2" y1="514.7" x2="650.2" y2="518.8" stroke="#6f6f6f" stroke-width="1.2"/>
<line x1="660.9" y1="527.6" x2="667.3" y2="528.6" stroke="#7f7f7f" stroke-width="1.2"/>
<line x1="681.3" y1="514.2" x2="689.4" y2="514.4" stroke="#8c8c8c" stroke-width="1.2"/>
<line x1="570.9" y1="529.4" x2="568.1" y2="536.2" stroke="#8c8c8c" stroke-width="1.2"/>
<line x1="598.7" y1="529.4" x2="593.9" y2="533.7" stroke="#8c8c8c" stroke-width="1.2"/>
<line x1="600.2" y1="527.2" x2="605.8" y2="533.3" stroke="#6f6f6f" stroke-width="1.2"/>
<line x1="622.9" y1="528.8" x2="621.7" y2="535.2" stroke="#8c8c8c" stroke-width="1.2"/>
<line x1="640.4" y1="539.6" x2="632.6" y2="541.5" stroke="#7f7f7f" stroke-width="1.2"/>
<line x1="664.5" y1="538.8" x2="659.9" y2="545.5" stroke="#7f7f7f" stroke-width="1.2"/>
<line x1="663.2" y1="530.2" x2="664.8" y2="539.3" stroke="#7f7f7f" stroke-width="1.2"/>
<line x1="568.7" y1="549.1" x2="569.9" y2="556.5" stroke="#7f7f7f" stroke-width="1.2"/>
<line x1="587.1" y1="554.3" x2="589.7" y2="559.8" stroke="#8c8c8c" stroke-width="1.2"/>
<line x1="608.9" y1="549.0" x2="611.3" y2="555.8" stroke="#6f6f6f" stroke-width="1.2"/>
<line x1="619.7" y1="543.9" x2="617.8" y2="553.3" stroke="#8c8c8c" stroke-width="1.2"/>
<line x1="638.5" y1="545.9" x2="632.0" y2="545.9" stroke="#8c8c8c" stroke-width="1.2"/>
<line x1="661.0" y1="545.5" x2="654.9" y2="549.4" stroke="#7f7f7f" stroke-width="1.2"/>
<line x1="677.4" y1="552.1" x2="678.3" y2="558.7" stroke="#7f7f7f" stroke-width="1.2"/>
<line x1="683.9" y1="552.9" x2="677.2" y2="553.0" stroke="#8c8c8c" stroke-width="1.2"/>
<line x1="579.1" y1="558.6" x2="572.5" y2="565.0" stroke="#6f6f6f" stroke-width="1.2"/>
<line x1="587.4" y1="558.3" x2="592.8" y2="564.8" stroke="#8c8c8c" stroke-width="1.2"/>
<line x1="613.4" y1="558.4" x2="608.4" y2="563.9" stroke="#7f7f7f" stroke-width="1.2"/>
<line x1="625.9" y1="572.2" x2="624.1" y2="582.0" stroke="#7f7f7f" stroke-width="1.2"/>
<line x1="641.5" y1="562.8" x2="647.8" y2="567.0" stroke="#7f7f7f" stroke-width="1.2"/>
<line x1="659.6" y1="560.8" x2="652.1" y2="565.9" stroke="#8c8c8c" stroke-width="1.2"/>
<line x1="671.0" y1="572.9" x2="666.9" y2="577.3" stroke="#8c8c8c" stroke-width="1.2"/>
<line x1="585.5" y1="585.6" x2="584.7" y2="595.1" stroke="#8c8c8c" stroke-width="1.2"/>
<line x1="610.1" y1="584.4" x2="615.8" y2="588.2" stroke="#6f6f6f" stroke-width="1.2"/>
<line x1="617.9" y1="587.2" x2="623.2" y2="595.0" stroke="#8c8c8c" stroke-width="1.2"/>
<line x1="635.8" y1="579.1" x2="642.7" y2="581.7" stroke="#7f7f7f" stroke-width="1.2"/>
<line x1="653.7" y1="575.5" x2="649.6" y2="584.4" stroke="#8c8c8c" stroke-width="1.2"/>
<line x1="674.0" y1="583.8" x2="680.0" y2="587.4" stroke="#7f7f7f" stroke-width="1.2"/>
<line x1="585.1" y1="594.0" x2="578.5" y2="599.3" stroke="#6f6f6f" stroke-width="1.2"/>
<line x1="587.8" y1="603.3" x2="589.8" y2="612.2" stroke="#8c8c8c" stroke-width="1.2"/>
<line x1="607.9" y1="598.5" x2="613.8" y2="601.2" stroke="#8c8c8c" stroke-width="1.2"/>
<line x1="630.2" y1="596.3" x2="620.5" y2="597.2" stroke="#6f6f6f" stroke-width="1.2"/>
<line x1="631.6" y1="590.4" x2="635.5" y2="598.4" stroke="#8c8c8c" stroke-width="1.2"/>
<line x1="654.9" y1="593.3" x2="651.8" y2="601.5" stroke="#6f6f6f" stroke-width="1.2"/>
<line x1="670.2" y1="604.8" x2="673.4" y2="613.9" stroke="#7f7f7f" stroke-width="1.2"/>
<line x1="600.2" y1="622.2" x2="597.5" y2="628.2" stroke="#8c8c8c" stroke-width="1.2"/>
<line x1="622.4" y1="619.4" x2="629.3" y2="626.4" stroke="#6f6f6f" stroke-width="1.2"/>
<line x1="642.0" y1="609.4" x2="646.7" y2="613.4" stroke="#8c8c8c" stroke-width="1.2"/>
<line x1="651.4" y1="610.9" x2="645.1" y2="614.5" stroke="#7f7f7f" stroke-width="1.2"/>
<line x1="612.6" y1="633.4" x2="614.9" y2="642.2" stroke="#7f7f7f" stroke-width="1.2"/>
<line x1="631.4" y1="636.8" x2="627.2" y2="641.2" stroke="#6f6f6f" stroke-width="1.2"/>
<line x1="644.6" y1="628.8" x2="638.4" y2="633.7" stroke="#8c8c8c" stroke-width="1.2"/>
<line x1="650.6" y1="625.7" x2="652.9" y2="634.1" stroke="#6f6f6f" stroke-width="1.2"/>
<line x1="755.7" y1="483.9" x2="748.2" y2="486.5" stroke="#666666" stroke-width="1.2"/>
<line x1="781.5" y1="484.2" x2="776.8" y2="488.0" stroke="#555555" stroke-width="1.2"/>
<line x1="728.4" y1="491.8" x2="730.7" y2="499.4" stroke="#555555" stroke-width="1.2"/>
<line x1="734.8" y1="505.0" x2="738.4" y2="514.3" stroke="#666666" stroke-width="1.2"/>
<line x1="748.0" y1="488.9" x2="754.3" y2="493.9" stroke="#555555" stroke-width="1.2"/>
<line x1="782.6" y1="487.9" x2="785.2" y2="493.5" stroke="#666666" stroke-width="1.2"/>
<line x1="722.2" y1="516.9" x2="713.3" y2="517.7" stroke="#555555" stroke-width="1.2"/>
<line x1="741.5" y1="515.8" x2="739.4" y2="524.8" stroke="#555555" stroke-width="1.2"/>
<line x1="758.4" y1="526.1" x2="756.7" y2="532.4" stroke="#666666" stroke-width="1.2"/>
<line x1="778.8" y1="516.9" x2="786.3" y2="517.8" stroke="#555555" stroke-width="1.2"/>
<line x1="799.1" y1="521.8" x2="790.2" y2="522.7" stroke="#555555" stroke-width="1.2"/>
<line x1="717.4" y1="550.0" x2="708.2" y2="550.5" stroke="#555555" stroke-width="1.2"/>
<line x1="731.6" y1="541.6" x2="730.8" y2="548.2" stroke="#555555" stroke-width="1.2"/>
<line x1="763.5" y1="537.0" x2="769.9" y2="539.0" stroke="#666666" stroke-width="1.2"/>
<line x1="783.4" y1="544.9" x2="789.9" y2="549.2" stroke="#555555" stroke-width="1.2"/>
<line x1="805.5" y1="545.9" x2="804.3" y2="553.2" stroke="#555555" stroke-width="1.2"/>
<line x1="714.3" y1="564.7" x2="719.3" y2="571.5" stroke="#666666" stroke-width="1.2"/>
<line x1="734.0" y1="563.5" x2="740.9" y2="570.4" stroke="#555555" stroke-width="1.2"/>
<line x1="753.2" y1="553.9" x2="758.5" y2="560.8" stroke="#555555" stroke-width="1.2"/>
<line x1="778.5" y1="551.7" x2="774.7" y2="560.6" stroke="#555555" stroke-width="1.2"/>
<line x1="805.1" y1="553.8" x2="797.7" y2="553.9" stroke="#666666" stroke-width="1.2"/>
<line x1="726.6" y1="569.3" x2="726.0" y2="575.6" stroke="#666666" stroke-width="1.2"/>
<line x1="728.7" y1="573.4" x2="737.8" y2="577.2" stroke="#666666" stroke-width="1.2"/>
<line x1="757.2" y1="583.9" x2="750.2" y2="585.5" stroke="#555555" stroke-width="1.2"/>
<line x1="783.5" y1="582.4" x2="783.4" y2="591.4" stroke="#555555" stroke-width="1.2"/>
<line x1="800.9" y1="578.8" x2="798.6" y2="588.3" stroke="#555555" stroke-width="1.2"/>
<line x1="715.8" y1="606.9" x2="722.1" y2="613.4" stroke="#666666" stroke-width="1.2"/>
<line x1="736.4" y1="602.7" x2="741.9" y2="610.6" stroke="#666666" stroke-width="1.2"/>
<line x1="766.3" y1="591.7" x2="772.5" y2="594.0" stroke="#666666" stroke-width="1.2"/>
<line x1="775.5" y1="592.1" x2="777.1" y2="600.2" stroke="#555555" stroke-width="1.2"/>
<line x1="791.6" y1="605.6" x2="794.9" y2="611.4" stroke="#666666" stroke-width="1.2"/>
<line x1="737.7" y1="616.1" x2="734.7" y2="623.0" stroke="#666666" stroke-width="1.2"/>
<line x1="762.6" y1="629.3" x2="772.0" y2="630.6" stroke="#666666" stroke-width="1.2"/>
<line x1="780.6" y1="613.2" x2="776.3" y2="617.9" stroke="#666666" stroke-width="1.2"/>
<line x1="788.0" y1="634.8" x2="781.8" y2="640.7" stroke="#666666" stroke-width="1.2"/>
<line x1="639.3" y1="433.0" x2="719.3" y2="335.4" stroke="#ffffff" stroke-width="1.5"/>
<line x1="634.4" y1="464.7" x2="730.5" y2="347.5" stroke="#ffffff" stroke-width="1.5"/>
<line x1="637.7" y1="486.0" x2="731.9" y2="371.0" stroke="#ffffff" stroke-width="1.5"/>
<line x1="652.5" y1="488.9" x2="729.2" y2="395.3" stroke="#ffffff" stroke-width="1.5"/>
<line x1="647.5" y1="547.4" x2="722.2" y2="456.2" stroke="#ffffff" stroke-width="1.5"/>
<line x1="642.1" y1="572.3" x2="718.2" y2="479.6" stroke="#ffffff" stroke-width="1.5"/>
<line x1="643.5" y1="597.2" x2="728.3" y2="493.9" stroke="#ffffff" stroke-width="1.5"/>
<line x1="646.6" y1="618.2" x2="718.3" y2="530.8" stroke="#ffffff" stroke-width="1.5"/>
<line x1="661.7" y1="642.0" x2="726.7" y2="562.6" stroke="#ffffff" stroke-width="1.5"/>
<line x1="661.4" y1="665.3" x2="730.2" y2="581.3" stroke="#ffffff" stroke-width="1.5"/>
<line x1="679.0" y1="674.1" x2="730.7" y2="611.1" stroke="#ffffff" stroke-width="1.5"/>
<line x1="694.8" y1="695.2" x2="731.1" y2="650.8" stroke="#ffffff" stroke-width="1.5"/>
<line x1="707.1" y1="705.3" x2="731.4" y2="675.6" stroke="#ffffff" stroke-width="1.5"/>
<line x1="714.2" y1="719.4" x2="729.6" y2="700.6" stroke="#ffffff" stroke-width="1.5"/>
<line x1="704.5" y1="341.7" x2="730.4" y2="362.5" stroke="#ffffff" stroke-width="1.5"/>
<line x1="703.0" y1="352.5" x2="730.3" y2="374.3" stroke="#ffffff" stroke-width="1.5"/>
<line x1="690.9" y1="359.3" x2="728.6" y2="389.4" stroke="#ffffff" stroke-width="1.5"/>
<line x1="688.2" y1="370.1" x2="730.8" y2="404.2" stroke="#ffffff" stroke-width="1.5"/>
<line x1="688.9" y1="383.3" x2="731.0" y2="416.9" stroke="#ffffff" stroke-width="1.5"/>
<line x1="673.9" y1="389.2" x2="727.4" y2="432.0" stroke="#ffffff" stroke-width="1.5"/>
<line x1="662.7" y1="394.5" x2="723.5" y2="443.1" stroke="#ffffff" stroke-width="1.5"/>
<line x1="655.2" y1="402.0" x2="730.0" y2="461.9" stroke="#ffffff" stroke-width="1.5"/>
<line x1="651.3" y1="412.9" x2="725.3" y2="472.2" stroke="#ffffff" stroke-width="1.5"/>
<line x1="649.5" y1="422.7" x2="730.5" y2="487.5" stroke="#ffffff" stroke-width="1.5"/>
<line x1="639.9" y1="427.5" x2="729.0" y2="498.8" stroke="#ffffff" stroke-width="1.5"/>
<line x1="640.8" y1="443.7" x2="723.0" y2="509.4" stroke="#ffffff" stroke-width="1.5"/>
<line x1="639.5" y1="460.4" x2="728.8" y2="531.9" stroke="#ffffff" stroke-width="1.5"/>
<line x1="636.5" y1="467.8" x2="730.4" y2="542.9" stroke="#ffffff" stroke-width="1.5"/>
<line x1="643.5" y1="502.9" x2="720.7" y2="564.7" stroke="#ffffff" stroke-width="1.5"/>
<line x1="643.8" y1="517.3" x2="720.7" y2="578.9" stroke="#ffffff" stroke-width="1.5"/>
<line x1="638.4" y1="530.0" x2="730.3" y2="603.5" stroke="#ffffff" stroke-width="1.5"/>
<line x1="641.6" y1="543.7" x2="724.1" y2="609.7" stroke="#ffffff" stroke-width="1.5"/>
<line x1="641.4" y1="558.6" x2="722.6" y2="623.6" stroke="#ffffff" stroke-width="1.5"/>
<line x1="649.0" y1="580.5" x2="723.5" y2="640.1" stroke="#ffffff" stroke-width="1.5"/>
<line x1="646.0" y1="590.3" x2="724.2" y2="652.8" stroke="#ffffff" stroke-width="1.5"/>
<line x1="643.8" y1="599.8" x2="712.7" y2="654.9" stroke="#ffffff" stroke-width="1.5"/>
<line x1="643.5" y1="617.5" x2="729.8" y2="686.5" stroke="#ffffff" stroke-width="1.5"/>
<line x1="645.2" y1="631.3" x2="729.6" y2="698.8" stroke="#ffffff" stroke-width="1.5"/>
<line x1="726.2" y1="451.6" x2="756.7" y2="414.4" stroke="#f6f6f6" stroke-width="1.5"/>
<line x1="728.1" y1="474.4" x2="768.2" y2="425.5" stroke="#f6f6f6" stroke-width="1.5"/>
<line x1="727.9" y1="498.6" x2="770.3" y2="446.9" stroke="#f6f6f6" stroke-width="1.5"/>
<line x1="737.3" y1="556.4" x2="793.0" y2="488.5" stroke="#f6f6f6" stroke-width="1.5"/>
<line x1="741.8" y1="600.2" x2="811.1" y2="515.7" stroke="#f6f6f6" stroke-width="1.5"/>
<line x1="737.5" y1="629.6" x2="805.0" y2="547.3" stroke="#f6f6f6" stroke-width="1.5"/>
<line x1="726.4" y1="713.8" x2="804.5" y2="618.4" stroke="#f6f6f6" stroke-width="1.5"/>
<line x1="723.1" y1="355.7" x2="738.2" y2="367.8" stroke="#f6f6f6" stroke-width="1.5"/>
<line x1="724.3" y1="371.4" x2="749.2" y2="391.4" stroke="#f6f6f6" stroke-width="1.5"/>
<line x1="733.4" y1="416.1" x2="773.1" y2="447.9" stroke="#f6f6f6" stroke-width="1.5"/>
<line x1="721.8" y1="430.0" x2="789.4" y2="484.1" stroke="#f6f6f6" stroke-width="1.5"/>
<line x1="724.4" y1="454.3" x2="819.2" y2="530.2" stroke="#f6f6f6" stroke-width="1.5"/>
<line x1="724.4" y1="471.7" x2="829.2" y2="555.5" stroke="#f6f6f6" stroke-width="1.5"/>
<line x1="725.7" y1="492.0" x2="805.8" y2="556.1" stroke="#f6f6f6" stroke-width="1.5"/>
<line x1="732.8" y1="513.0" x2="816.5" y2="579.9" stroke="#f6f6f6" stroke-width="1.5"/>
<line x1="732.5" y1="535.0" x2="803.4" y2="591.8" stroke="#f6f6f6" stroke-width="1.5"/>
<line x1="731.4" y1="555.4" x2="798.7" y2="609.2" stroke="#f6f6f6" stroke-width="1.5"/>
<line x1="725.8" y1="583.5" x2="800.7" y2="643.4" stroke="#f6f6f6" stroke-width="1.5"/>
<line x1="730.2" y1="612.1" x2="782.8" y2="654.2" stroke="#f6f6f6" stroke-width="1.5"/>
<line x1="728.4" y1="649.9" x2="764.0" y2="678.4" stroke="#f6f6f6" stroke-width="1.5"/>
<line x1="725.5" y1="660.9" x2="756.9" y2="686.1" stroke="#f6f6f6" stroke-width="1.5"/>
<line x1="723.2" y1="677.0" x2="748.4" y2="697.2" stroke="#f6f6f6" stroke-width="1.5"/>
<line x1="721.4" y1="696.4" x2="737.7" y2="709.4" stroke="#f6f6f6" stroke-width="1.5"/>
<circle cx="659.0" cy="433.8" r="6.5" fill="#fff2cc"/>
<circle cx="689.2" cy="431.2" r="6.5" fill="#fff2cc"/>
<circle cx="724.8" cy="460.0" r="6.5" fill="#fff2cc"/>
<circle cx="692.6" cy="477.0" r="6.5" fill="#fff2cc"/>
<circle cx="658.7" cy="497.4" r="6.5" fill="#fff2cc"/>
<circle cx="750.6" cy="510.1" r="6.5" fill="#fff2cc"/>
<circle cx="728.6" cy="517.8" r="6.5" fill="#fff2cc"/>
<circle cx="658.5" cy="500.0" r="6.0" fill="#fff2cc"/>
<circle cx="751.4" cy="509.3" r="6.5" fill="#fff2cc"/>
<circle cx="760.0" cy="532.7" r="6.5" fill="#fff2cc"/>
<circle cx="756.5" cy="554.1" r="6.5" fill="#fff2cc"/>
<circle cx="695.1" cy="560.2" r="6.5" fill="#fff2cc"/>
<circle cx="722.7" cy="575.8" r="6.5" fill="#fff2cc"/>
<circle cx="768.2" cy="575.8" r="6.5" fill="#fff2cc"/>
<circle cx="673.7" cy="600.8" r="6.5" fill="#fff2cc"/>
<circle cx="711.0" cy="607.4" r="6.5" fill="#fff2cc"/>
<circle cx="767.0" cy="607.4" r="6.5" fill="#fff2cc"/>
<circle cx="723.9" cy="627.2" r="6.5" fill="#fff2cc"/>
<circle cx="713.3" cy="672.7" r="6.5" fill="#fff2cc"/>
<circle cx="695.5" cy="497.4" r="3.5" fill="#fff2cc"/>
<circle cx="714.5" cy="543.2" r="3.5" fill="#fff2cc"/>
<circle cx="730.9" cy="544.3" r="3.5" fill="#fff2cc"/>
<circle cx="691.2" cy="572.3" r="3.5" fill="#fff2cc"/>
<circle cx="674.8" cy="578.6" r="3.5" fill="#fff2cc"/>
<circle cx="704.0" cy="588.7" r="3.5" fill="#fff2cc"/>
<circle cx="749.5" cy="587.5" r="3.5" fill="#fff2cc"/>
<circle cx="777.5" cy="552.5" r="3.5" fill="#fff2cc"/>
<circle cx="664.4" cy="385.8" r="6.5" fill="#c5e0b4"/>
<circle cx="695.5" cy="382.9" r="6.5" fill="#c5e0b4"/>
<circle cx="730.3" cy="411.7" r="6.5" fill="#c5e0b4"/>
<circle cx="698.5" cy="428.7" r="6.5" fill="#c5e0b4"/>
<circle cx="664.1" cy="449.0" r="6.5" fill="#c5e0b4"/>
<circle cx="734.0" cy="471.1" r="6.5" fill="#c5e0b4"/>
<circle cx="756.6" cy="461.8" r="6.5" fill="#c5e0b4"/>
<circle cx="765.9" cy="484.7" r="6.5" fill="#c5e0b4"/>
<circle cx="701.2" cy="512.1" r="6.5" fill="#c5e0b4"/>
<circle cx="763.0" cy="506.2" r="6.5" fill="#c5e0b4"/>
<circle cx="729.7" cy="527.5" r="6.5" fill="#c5e0b4"/>
<circle cx="774.0" cy="528.0" r="6.5" fill="#c5e0b4"/>
<circle cx="679.5" cy="552.5" r="6.5" fill="#c5e0b4"/>
<circle cx="716.8" cy="558.8" r="6.5" fill="#c5e0b4"/>
<circle cx="772.9" cy="559.5" r="6.5" fill="#c5e0b4"/>
<circle cx="728.5" cy="578.6" r="6.5" fill="#c5e0b4"/>
<circle cx="718.5" cy="624.9" r="6.5" fill="#c5e0b4"/>
<circle cx="701.4" cy="449.0" r="3.5" fill="#c5e0b4"/>
<circle cx="721.0" cy="494.4" r="3.5" fill="#c5e0b4"/>
<circle cx="736.2" cy="495.7" r="3.5" fill="#c5e0b4"/>
<circle cx="782.3" cy="505.0" r="3.5" fill="#c5e0b4"/>
<circle cx="696.5" cy="523.3" r="3.5" fill="#c5e0b4"/>
<circle cx="680.2" cy="529.9" r="3.5" fill="#c5e0b4"/>
<circle cx="709.8" cy="539.7" r="3.5" fill="#c5e0b4"/>
<circle cx="755.4" cy="538.5" r="3.5" fill="#c5e0b4"/>
</g>
<clipPath id="c3"><rect x="876" y="0" width="1124" height="943"/></clipPath><g id="s3" clip-path="url(#c3)">
<line x1="950.7" y1="449.2" x2="953.5" y2="455.8" stroke="#6f6f6f" stroke-width="1.4"/>
<line x1="988.7" y1="443.7" x2="994.0" y2="450.5" stroke="#7f7f7f" stroke-width="1.4"/>
<line x1="1005.7" y1="450.5" x2="1010.4" y2="457.4" stroke="#7f7f7f" stroke-width="1.4"/>
<line x1="1027.0" y1="439.4" x2="1029.4" y2="448.0" stroke="#6f6f6f" stroke-width="1.4"/>
<line x1="935.1" y1="463.8" x2="940.6" y2="467.3" stroke="#6f6f6f" stroke-width="1.4"/>
<line x1="954.5" y1="453.6" x2="950.8" y2="460.3" stroke="#7f7f7f" stroke-width="1.4"/>
<line x1="964.7" y1="473.4" x2="955.3" y2="474.4" stroke="#5f5f5f" stroke-width="1.4"/>
<line x1="980.6" y1="456.8" x2="987.7" y2="460.8" stroke="#7f7f7f" stroke-width="1.4"/>
<line x1="1017.9" y1="466.0" x2="1013.7" y2="472.7" stroke="#7f7f7f" stroke-width="1.4"/>
<line x1="1016.0" y1="460.8" x2="1024.5" y2="461.1" stroke="#7f7f7f" stroke-width="1.4"/>
<line x1="1038.6" y1="458.0" x2="1045.8" y2="461.9" stroke="#6f6f6f" stroke-width="1.4"/>
<line x1="1060.8" y1="464.5" x2="1053.6" y2="465.3" stroke="#5f5f5f" stroke-width="1.4"/>
<line x1="932.1" y1="480.9" x2="936.6" y2="489.6" stroke="#7f7f7f" stroke-width="1.4"/>
<line x1="944.7" y1="473.5" x2="938.7" y2="480.9" stroke="#7f7f7f" stroke-width="1.4"/>
<line x1="962.1" y1="476.1" x2="960.4" y2="484.9" stroke="#7f7f7f" stroke-width="1.4"/>
<line x1="982.7" y1="476.9" x2="976.6" y2="482.4" stroke="#6f6f6f" stroke-width="1.4"/>
<line x1="1002.6" y1="474.8" x2="1001.8" y2="481.3" stroke="#6f6f6f" stroke-width="1.4"/>
<line x1="1032.2" y1="479.1" x2="1029.1" y2="487.4" stroke="#5f5f5f" stroke-width="1.4"/>
<line x1="1050.7" y1="478.6" x2="1042.7" y2="484.0" stroke="#5f5f5f" stroke-width="1.4"/>
<line x1="1071.8" y1="488.0" x2="1063.5" y2="491.4" stroke="#6f6f6f" stroke-width="1.4"/>
<line x1="932.7" y1="493.8" x2="940.8" y2="494.6" stroke="#7f7f7f" stroke-width="1.4"/>
<line x1="954.0" y1="500.2" x2="945.8" y2="505.1" stroke="#7f7f7f" stroke-width="1.4"/>
<line x1="969.3" y1="510.1" x2="960.9" y2="512.6" stroke="#6f6f6f" stroke-width="1.4"/>
<line x1="995.6" y1="493.4" x2="989.1" y2="500.9" stroke="#6f6f6f" stroke-width="1.4"/>
<line x1="1011.4" y1="504.7" x2="1004.4" y2="507.2" stroke="#7f7f7f" stroke-width="1.4"/>
<line x1="1018.7" y1="491.3" x2="1018.2" y2="499.9" stroke="#7f7f7f" stroke-width="1.4"/>
<line x1="1046.7" y1="506.3" x2="1051.9" y2="510.2" stroke="#7f7f7f" stroke-width="1.4"/>
<line x1="1063.6" y1="498.1" x2="1068.7" y2="506.3" stroke="#7f7f7f" stroke-width="1.4"/>
<line x1="912.7" y1="513.6" x2="906.2" y2="514.2" stroke="#7f7f7f" stroke-width="1.4"/>
<line x1="924.2" y1="526.8" x2="930.7" y2="531.8" stroke="#6f6f6f" stroke-width="1.4"/>
<line x1="945.6" y1="511.2" x2="945.7" y2="520.0" stroke="#6f6f6f" stroke-width="1.4"/>
<line x1="960.0" y1="524.8" x2="965.1" y2="530.2" stroke="#5f5f5f" stroke-width="1.4"/>
<line x1="987.4" y1="519.1" x2="994.2" y2="519.2" stroke="#6f6f6f" stroke-width="1.4"/>
<line x1="1007.3" y1="526.8" x2="1013.6" y2="530.1" stroke="#7f7f7f" stroke-width="1.4"/>
<line x1="1033.7" y1="528.8" x2="1039.8" y2="530.9" stroke="#6f6f6f" stroke-width="1.4"/>
<line x1="1044.7" y1="525.1" x2="1047.2" y2="533.8" stroke="#5f5f5f" stroke-width="1.4"/>
<line x1="1070.5" y1="529.7" x2="1080.1" y2="531.5" stroke="#5f5f5f" stroke-width="1.4"/>
<line x1="1092.6" y1="522.1" x2="1090.3" y2="528.1" stroke="#6f6f6f" stroke-width="1.4"/>
<line x1="912.8" y1="543.7" x2="911.7" y2="551.0" stroke="#6f6f6f" stroke-width="1.4"/>
<line x1="922.7" y1="531.6" x2="925.5" y2="538.4" stroke="#5f5f5f" stroke-width="1.4"/>
<line x1="941.1" y1="543.3" x2="948.0" y2="545.9" stroke="#7f7f7f" stroke-width="1.4"/>
<line x1="966.0" y1="535.7" x2="974.3" y2="538.4" stroke="#6f6f6f" stroke-width="1.4"/>
<line x1="982.7" y1="548.8" x2="981.8" y2="554.9" stroke="#5f5f5f" stroke-width="1.4"/>
<line x1="1003.3" y1="549.5" x2="995.9" y2="553.2" stroke="#6f6f6f" stroke-width="1.4"/>
<line x1="1037.9" y1="543.6" x2="1028.1" y2="545.3" stroke="#6f6f6f" stroke-width="1.4"/>
<line x1="1054.0" y1="543.1" x2="1060.0" y2="550.0" stroke="#5f5f5f" stroke-width="1.4"/>
<line x1="1053.5" y1="550.7" x2="1060.9" y2="552.6" stroke="#5f5f5f" stroke-width="1.4"/>
<line x1="1088.2" y1="548.3" x2="1081.4" y2="554.0" stroke="#6f6f6f" stroke-width="1.4"/>
<line x1="899.2" y1="549.1" x2="902.4" y2="557.3" stroke="#7f7f7f" stroke-width="1.4"/>
<line x1="939.6" y1="567.2" x2="930.4" y2="569.5" stroke="#5f5f5f" stroke-width="1.4"/>
<line x1="941.9" y1="551.7" x2="945.6" y2="558.3" stroke="#5f5f5f" stroke-width="1.4"/>
<line x1="964.0" y1="565.6" x2="968.2" y2="571.5" stroke="#6f6f6f" stroke-width="1.4"/>
<line x1="991.7" y1="566.7" x2="994.4" y2="573.0" stroke="#7f7f7f" stroke-width="1.4"/>
<line x1="1020.6" y1="564.3" x2="1013.7" y2="571.0" stroke="#5f5f5f" stroke-width="1.4"/>
<line x1="1029.7" y1="552.3" x2="1038.7" y2="554.0" stroke="#7f7f7f" stroke-width="1.4"/>
<line x1="1034.2" y1="566.9" x2="1040.9" y2="572.6" stroke="#7f7f7f" stroke-width="1.4"/>
<line x1="1072.2" y1="556.4" x2="1066.3" y2="562.1" stroke="#5f5f5f" stroke-width="1.4"/>
<line x1="1079.4" y1="555.3" x2="1079.0" y2="563.4" stroke="#6f6f6f" stroke-width="1.4"/>
<line x1="911.0" y1="572.5" x2="906.7" y2="580.4" stroke="#5f5f5f" stroke-width="1.4"/>
<line x1="925.1" y1="573.9" x2="917.4" y2="578.9" stroke="#7f7f7f" stroke-width="1.4"/>
<line x1="945.4" y1="572.1" x2="938.2" y2="576.7" stroke="#5f5f5f" stroke-width="1.4"/>
<line x1="970.2" y1="572.9" x2="963.9" y2="577.2" stroke="#7f7f7f" stroke-width="1.4"/>
<line x1="996.0" y1="578.7" x2="992.5" y2="587.6" stroke="#6f6f6f" stroke-width="1.4"/>
<line x1="1004.2" y1="584.9" x2="1010.2" y2="585.1" stroke="#6f6f6f" stroke-width="1.4"/>
<line x1="1026.5" y1="572.0" x2="1018.4" y2="573.8" stroke="#7f7f7f" stroke-width="1.4"/>
<line x1="1041.7" y1="577.5" x2="1036.3" y2="580.6" stroke="#7f7f7f" stroke-width="1.4"/>
<line x1="1065.8" y1="574.5" x2="1062.6" y2="580.3" stroke="#5f5f5f" stroke-width="1.4"/>
<line x1="1080.1" y1="584.7" x2="1085.4" y2="593.0" stroke="#7f7f7f" stroke-width="1.4"/>
<line x1="1100.0" y1="577.9" x2="1093.0" y2="584.6" stroke="#6f6f6f" stroke-width="1.4"/>
<line x1="910.3" y1="593.8" x2="904.7" y2="601.5" stroke="#6f6f6f" stroke-width="1.4"/>
<line x1="937.6" y1="596.5" x2="930.2" y2="596.5" stroke="#5f5f5f" stroke-width="1.4"/>
<line x1="936.6" y1="593.7" x2="943.6" y2="596.8" stroke="#5f5f5f" stroke-width="1.4"/>
<line x1="974.1" y1="596.7" x2="982.1" y2="601.1" stroke="#5f5f5f" stroke-width="1.4"/>
<line x1="976.4" y1="610.9" x2="985.2" y2="611.4" stroke="#7f7f7f" stroke-width="1.4"/>
<line x1="1013.8" y1="608.6" x2="1007.9" y2="613.1" stroke="#7f7f7f" stroke-width="1.4"/>
<line x1="1024.1" y1="604.9" x2="1024.5" y2="611.0" stroke="#5f5f5f" stroke-width="1.4"/>
<line x1="1035.2" y1="595.5" x2="1041.4" y2="598.0" stroke="#7f7f7f" stroke-width="1.4"/>
<line x1="1072.4" y1="597.6" x2="1073.0" y2="606.8" stroke="#5f5f5f" stroke-width="1.4"/>
<line x1="1089.9" y1="595.8" x2="1094.5" y2="603.5" stroke="#7f7f7f" stroke-width="1.4"/>
<line x1="911.7" y1="611.5" x2="912.8" y2="619.3" stroke="#5f5f5f" stroke-width="1.4"/>
<line x1="926.5" y1="628.4" x2="920.6" y2="629.7" stroke="#5f5f5f" stroke-width="1.4"/>
<line x1="950.1" y1="623.7" x2="945.3" y2="631.6" stroke="#5f5f5f" stroke-width="1.4"/>
<line x1="964.9" y1="621.3" x2="964.1" y2="630.8" stroke="#5f5f5f" stroke-width="1.4"/>
<line x1="999.6" y1="623.3" x2="993.1" y2="624.7" stroke="#7f7f7f" stroke-width="1.4"/>
<line x1="1000.4" y1="621.6" x2="1005.2" y2="628.0" stroke="#7f7f7f" stroke-width="1.4"/>
<line x1="1039.5" y1="625.0" x2="1033.5" y2="630.0" stroke="#6f6f6f" stroke-width="1.4"/>
<line x1="1050.7" y1="619.0" x2="1041.6" y2="620.1" stroke="#5f5f5f" stroke-width="1.4"/>
<line x1="1059.0" y1="623.0" x2="1059.1" y2="630.6" stroke="#5f5f5f" stroke-width="1.4"/>
<line x1="1082.9" y1="612.7" x2="1076.8" y2="619.3" stroke="#7f7f7f" stroke-width="1.4"/>
<line x1="924.2" y1="635.5" x2="922.0" y2="643.9" stroke="#6f6f6f" stroke-width="1.4"/>
<line x1="952.2" y1="628.7" x2="956.1" y2="637.8" stroke="#5f5f5f" stroke-width="1.4"/>
<line x1="964.8" y1="640.7" x2="958.3" y2="642.6" stroke="#7f7f7f" stroke-width="1.4"/>
<line x1="994.5" y1="645.5" x2="998.1" y2="653.3" stroke="#7f7f7f" stroke-width="1.4"/>
<line x1="1013.1" y1="633.0" x2="1005.6" y2="633.4" stroke="#5f5f5f" stroke-width="1.4"/>
<line x1="1031.8" y1="650.7" x2="1038.1" y2="651.0" stroke="#6f6f6f" stroke-width="1.4"/>
<line x1="1052.0" y1="640.8" x2="1058.3" y2="642.8" stroke="#6f6f6f" stroke-width="1.4"/>
<line x1="1062.8" y1="638.4" x2="1066.4" y2="647.4" stroke="#6f6f6f" stroke-width="1.4"/>
<line x1="932.9" y1="654.4" x2="927.7" y2="658.7" stroke="#7f7f7f" stroke-width="1.4"/>
<line x1="952.7" y1="666.9" x2="943.9" y2="671.1" stroke="#7f7f7f" stroke-width="1.4"/>
<line x1="962.2" y1="652.9" x2="964.9" y2="659.1" stroke="#6f6f6f" stroke-width="1.4"/>
<line x1="983.0" y1="665.1" x2="986.1" y2="670.6" stroke="#7f7f7f" stroke-width="1.4"/>
<line x1="1002.8" y1="664.3" x2="1005.5" y2="670.2" stroke="#5f5f5f" stroke-width="1.4"/>
<line x1="1034.6" y1="663.9" x2="1037.5" y2="672.5" stroke="#7f7f7f" stroke-width="1.4"/>
<line x1="1056.6" y1="652.3" x2="1049.9" y2="657.3" stroke="#7f7f7f" stroke-width="1.4"/>
<line x1="1070.8" y1="667.0" x2="1061.1" y2="667.3" stroke="#7f7f7f" stroke-width="1.4"/>
<line x1="946.7" y1="674.2" x2="953.4" y2="678.0" stroke="#5f5f5f" stroke-width="1.4"/>
<line x1="974.0" y1="680.5" x2="976.2" y2="686.2" stroke="#7f7f7f" stroke-width="1.4"/>
<line x1="992.5" y1="682.7" x2="989.0" y2="691.0" stroke="#6f6f6f" stroke-width="1.4"/>
<line x1="1006.7" y1="681.1" x2="1002.5" y2="685.7" stroke="#7f7f7f" stroke-width="1.4"/>
<line x1="1028.4" y1="675.8" x2="1021.0" y2="676.8" stroke="#6f6f6f" stroke-width="1.4"/>
<line x1="1043.5" y1="685.4" x2="1035.9" y2="686.9" stroke="#6f6f6f" stroke-width="1.4"/>
<line x1="961.8" y1="687.7" x2="958.4" y2="693.4" stroke="#7f7f7f" stroke-width="1.4"/>
<line x1="1010.2" y1="691.1" x2="1012.5" y2="699.6" stroke="#6f6f6f" stroke-width="1.4"/>
<line x1="1035.4" y1="687.4" x2="1039.1" y2="696.3" stroke="#7f7f7f" stroke-width="1.4"/>
<line x1="906.5" y1="535.5" x2="1008.6" y2="410.9" stroke="#ffffff" stroke-width="1.8"/>
<line x1="919.3" y1="548.9" x2="1014.8" y2="432.4" stroke="#ffffff" stroke-width="1.8"/>
<line x1="927.3" y1="578.7" x2="1028.4" y2="455.3" stroke="#ffffff" stroke-width="1.8"/>
<line x1="937.6" y1="599.3" x2="1039.6" y2="474.9" stroke="#ffffff" stroke-width="1.8"/>
<line x1="942.7" y1="640.9" x2="1055.4" y2="503.4" stroke="#ffffff" stroke-width="1.8"/>
<line x1="952.3" y1="661.4" x2="1057.4" y2="533.3" stroke="#ffffff" stroke-width="1.8"/>
<line x1="968.3" y1="687.4" x2="1071.4" y2="561.6" stroke="#ffffff" stroke-width="1.8"/>
<line x1="978.3" y1="714.4" x2="1086.0" y2="583.0" stroke="#ffffff" stroke-width="1.8"/>
<line x1="989.3" y1="734.7" x2="1095.0" y2="605.7" stroke="#ffffff" stroke-width="1.8"/>
<line x1="968.2" y1="422.0" x2="1030.2" y2="472.9" stroke="#ffffff" stroke-width="1.8"/>
<line x1="947.0" y1="437.0" x2="1057.2" y2="527.4" stroke="#ffffff" stroke-width="1.8"/>
<line x1="932.5" y1="456.4" x2="1078.0" y2="575.7" stroke="#ffffff" stroke-width="1.8"/>
<line x1="926.5" y1="482.6" x2="1104.6" y2="628.6" stroke="#ffffff" stroke-width="1.8"/>
<line x1="910.9" y1="498.6" x2="1091.5" y2="646.7" stroke="#ffffff" stroke-width="1.8"/>
<line x1="902.2" y1="515.3" x2="1078.5" y2="659.8" stroke="#ffffff" stroke-width="1.8"/>
<line x1="923.1" y1="564.1" x2="1058.1" y2="674.7" stroke="#ffffff" stroke-width="1.8"/>
<line x1="939.4" y1="607.7" x2="1041.4" y2="691.3" stroke="#ffffff" stroke-width="1.8"/>
<line x1="957.1" y1="654.4" x2="1025.6" y2="710.6" stroke="#ffffff" stroke-width="1.8"/>
<line x1="977.5" y1="701.2" x2="1015.5" y2="732.4" stroke="#ffffff" stroke-width="1.8"/>
<line x1="994.4" y1="568.1" x2="1037.5" y2="515.5" stroke="#f6f6f6" stroke-width="1.6"/>
<line x1="994.0" y1="608.5" x2="1054.3" y2="534.9" stroke="#f6f6f6" stroke-width="1.6"/>
<line x1="991.2" y1="658.6" x2="1068.8" y2="563.9" stroke="#f6f6f6" stroke-width="1.6"/>
<line x1="996.9" y1="684.2" x2="1084.0" y2="577.8" stroke="#f6f6f6" stroke-width="1.6"/>
<line x1="990.3" y1="483.9" x2="1041.9" y2="526.2" stroke="#f6f6f6" stroke-width="1.6"/>
<line x1="988.7" y1="502.3" x2="1063.4" y2="563.6" stroke="#f6f6f6" stroke-width="1.6"/>
<line x1="989.5" y1="567.5" x2="1080.4" y2="642.0" stroke="#f6f6f6" stroke-width="1.6"/>
<line x1="994.3" y1="601.6" x2="1071.4" y2="664.8" stroke="#f6f6f6" stroke-width="1.6"/>
<line x1="992.2" y1="640.3" x2="1051.4" y2="688.8" stroke="#f6f6f6" stroke-width="1.6"/>
<line x1="993.4" y1="668.6" x2="1036.8" y2="704.2" stroke="#f6f6f6" stroke-width="1.6"/>
<circle cx="937.3" cy="457.7" r="6.5" fill="#c5e0b4"/>
<circle cx="967.9" cy="454.6" r="6.5" fill="#c5e0b4"/>
<circle cx="1002.6" cy="483.1" r="6.5" fill="#c5e0b4"/>
<circle cx="970.9" cy="500.4" r="6.5" fill="#c5e0b4"/>
<circle cx="936.5" cy="520.4" r="6.5" fill="#c5e0b4"/>
<circle cx="1028.9" cy="533.7" r="6.5" fill="#c5e0b4"/>
<circle cx="1006.5" cy="542.5" r="6.5" fill="#c5e0b4"/>
<circle cx="1038.3" cy="556.5" r="6.5" fill="#c5e0b4"/>
<circle cx="973.8" cy="584.1" r="6.5" fill="#c5e0b4"/>
<circle cx="1035.3" cy="577.8" r="6.5" fill="#c5e0b4"/>
<circle cx="1002.2" cy="599.4" r="6.5" fill="#c5e0b4"/>
<circle cx="1046.3" cy="599.8" r="6.5" fill="#c5e0b4"/>
<circle cx="952.0" cy="624.4" r="6.5" fill="#c5e0b4"/>
<circle cx="989.5" cy="630.8" r="6.5" fill="#c5e0b4"/>
<circle cx="1045.3" cy="631.2" r="6.5" fill="#c5e0b4"/>
<circle cx="1001.4" cy="650.7" r="6.5" fill="#c5e0b4"/>
<circle cx="991.2" cy="696.5" r="6.5" fill="#c5e0b4"/>
<circle cx="974.1" cy="521.3" r="3.5" fill="#c5e0b4"/>
<circle cx="993.7" cy="566.5" r="3.5" fill="#c5e0b4"/>
<circle cx="1008.8" cy="567.6" r="3.5" fill="#c5e0b4"/>
<circle cx="968.9" cy="595.6" r="3.5" fill="#c5e0b4"/>
<circle cx="953.0" cy="601.5" r="3.5" fill="#c5e0b4"/>
<circle cx="982.7" cy="612.1" r="3.5" fill="#c5e0b4"/>
<circle cx="1027.3" cy="610.0" r="3.5" fill="#c5e0b4"/>
<circle cx="1055.9" cy="576.0" r="3.5" fill="#c5e0b4"/>
</g>
<clipPath id="c4"><rect x="1142" y="0" width="858" height="943"/></clipPath><g id="s4" clip-path="url(#c4)">
<line x1="1213.6" y1="448.0" x2="1216.9" y2="453.8" stroke="#6a6a6a" stroke-width="1.2"/>
<line x1="1234.2" y1="450.3" x2="1224.9" y2="452.7" stroke="#7f7f7f" stroke-width="1.2"/>
<line x1="1254.5" y1="444.7" x2="1248.0" y2="445.0" stroke="#8a8a8a" stroke-width="1.2"/>
<line x1="1190.3" y1="464.5" x2="1193.7" y2="473.5" stroke="#7f7f7f" stroke-width="1.2"/>
<line x1="1203.4" y1="467.6" x2="1199.1" y2="474.5" stroke="#7f7f7f" stroke-width="1.2"/>
<line x1="1209.7" y1="455.5" x2="1211.0" y2="463.7" stroke="#6a6a6a" stroke-width="1.2"/>
<line x1="1232.5" y1="456.0" x2="1239.1" y2="462.7" stroke="#7f7f7f" stroke-width="1.2"/>
<line x1="1244.0" y1="458.7" x2="1246.3" y2="464.4" stroke="#7f7f7f" stroke-width="1.2"/>
<line x1="1269.3" y1="457.3" x2="1273.5" y2="464.7" stroke="#7f7f7f" stroke-width="1.2"/>
<line x1="1272.7" y1="461.6" x2="1279.3" y2="461.7" stroke="#6a6a6a" stroke-width="1.2"/>
<line x1="1297.9" y1="463.3" x2="1294.1" y2="468.0" stroke="#6a6a6a" stroke-width="1.2"/>
<line x1="1165.4" y1="483.0" x2="1168.5" y2="490.8" stroke="#8a8a8a" stroke-width="1.2"/>
<line x1="1187.3" y1="477.5" x2="1195.3" y2="483.3" stroke="#8a8a8a" stroke-width="1.2"/>
<line x1="1211.5" y1="482.5" x2="1204.9" y2="486.9" stroke="#6a6a6a" stroke-width="1.2"/>
<line x1="1220.1" y1="478.7" x2="1216.5" y2="484.5" stroke="#8a8a8a" stroke-width="1.2"/>
<line x1="1234.3" y1="469.4" x2="1240.2" y2="474.5" stroke="#7f7f7f" stroke-width="1.2"/>
<line x1="1246.5" y1="470.2" x2="1242.0" y2="474.8" stroke="#8a8a8a" stroke-width="1.2"/>
<line x1="1265.2" y1="471.0" x2="1269.8" y2="475.6" stroke="#7f7f7f" stroke-width="1.2"/>
<line x1="1287.8" y1="472.0" x2="1282.1" y2="478.1" stroke="#6a6a6a" stroke-width="1.2"/>
<line x1="1299.5" y1="480.9" x2="1291.4" y2="481.2" stroke="#6a6a6a" stroke-width="1.2"/>
<line x1="1306.5" y1="484.7" x2="1302.5" y2="490.1" stroke="#6a6a6a" stroke-width="1.2"/>
<line x1="1169.7" y1="491.8" x2="1175.2" y2="497.8" stroke="#7f7f7f" stroke-width="1.2"/>
<line x1="1182.8" y1="487.1" x2="1177.5" y2="493.5" stroke="#8a8a8a" stroke-width="1.2"/>
<line x1="1207.4" y1="490.3" x2="1199.3" y2="491.5" stroke="#6a6a6a" stroke-width="1.2"/>
<line x1="1216.3" y1="489.6" x2="1222.3" y2="493.4" stroke="#8a8a8a" stroke-width="1.2"/>
<line x1="1234.5" y1="496.4" x2="1227.6" y2="500.3" stroke="#7f7f7f" stroke-width="1.2"/>
<line x1="1249.2" y1="485.1" x2="1250.6" y2="493.3" stroke="#7f7f7f" stroke-width="1.2"/>
<line x1="1266.6" y1="498.5" x2="1259.1" y2="504.6" stroke="#8a8a8a" stroke-width="1.2"/>
<line x1="1280.2" y1="495.1" x2="1279.6" y2="501.7" stroke="#8a8a8a" stroke-width="1.2"/>
<line x1="1289.8" y1="496.3" x2="1294.7" y2="501.3" stroke="#6a6a6a" stroke-width="1.2"/>
<line x1="1309.2" y1="497.3" x2="1300.5" y2="501.9" stroke="#8a8a8a" stroke-width="1.2"/>
<line x1="1324.4" y1="499.1" x2="1328.6" y2="505.3" stroke="#6a6a6a" stroke-width="1.2"/>
<line x1="1178.7" y1="508.0" x2="1173.6" y2="512.0" stroke="#8a8a8a" stroke-width="1.2"/>
<line x1="1182.5" y1="507.2" x2="1188.3" y2="509.6" stroke="#7f7f7f" stroke-width="1.2"/>
<line x1="1208.5" y1="501.7" x2="1204.5" y2="508.9" stroke="#7f7f7f" stroke-width="1.2"/>
<line x1="1217.1" y1="503.8" x2="1221.3" y2="511.9" stroke="#6a6a6a" stroke-width="1.2"/>
<line x1="1233.9" y1="505.8" x2="1236.3" y2="515.5" stroke="#8a8a8a" stroke-width="1.2"/>
<line x1="1248.7" y1="502.3" x2="1242.0" y2="506.5" stroke="#6a6a6a" stroke-width="1.2"/>
<line x1="1262.5" y1="500.8" x2="1262.4" y2="508.5" stroke="#8a8a8a" stroke-width="1.2"/>
<line x1="1278.4" y1="501.3" x2="1281.8" y2="510.7" stroke="#7f7f7f" stroke-width="1.2"/>
<line x1="1303.9" y1="515.9" x2="1296.1" y2="518.9" stroke="#8a8a8a" stroke-width="1.2"/>
<line x1="1315.8" y1="506.7" x2="1321.1" y2="512.9" stroke="#7f7f7f" stroke-width="1.2"/>
<line x1="1331.5" y1="508.7" x2="1334.2" y2="516.8" stroke="#8a8a8a" stroke-width="1.2"/>
<line x1="1173.9" y1="529.3" x2="1167.5" y2="534.3" stroke="#6a6a6a" stroke-width="1.2"/>
<line x1="1178.8" y1="519.0" x2="1179.3" y2="525.6" stroke="#6a6a6a" stroke-width="1.2"/>
<line x1="1209.1" y1="516.4" x2="1206.6" y2="524.5" stroke="#8a8a8a" stroke-width="1.2"/>
<line x1="1216.9" y1="527.8" x2="1221.4" y2="536.2" stroke="#7f7f7f" stroke-width="1.2"/>
<line x1="1229.4" y1="527.4" x2="1236.8" y2="530.0" stroke="#8a8a8a" stroke-width="1.2"/>
<line x1="1256.4" y1="521.9" x2="1249.1" y2="527.9" stroke="#7f7f7f" stroke-width="1.2"/>
<line x1="1264.9" y1="527.9" x2="1270.6" y2="535.1" stroke="#8a8a8a" stroke-width="1.2"/>
<line x1="1287.4" y1="521.4" x2="1279.2" y2="522.6" stroke="#8a8a8a" stroke-width="1.2"/>
<line x1="1302.4" y1="517.8" x2="1303.7" y2="524.7" stroke="#6a6a6a" stroke-width="1.2"/>
<line x1="1312.0" y1="520.3" x2="1308.6" y2="527.5" stroke="#8a8a8a" stroke-width="1.2"/>
<line x1="1331.0" y1="528.4" x2="1330.2" y2="535.2" stroke="#7f7f7f" stroke-width="1.2"/>
<line x1="1158.7" y1="545.9" x2="1162.1" y2="551.4" stroke="#8a8a8a" stroke-width="1.2"/>
<line x1="1171.1" y1="539.3" x2="1168.6" y2="544.8" stroke="#6a6a6a" stroke-width="1.2"/>
<line x1="1188.9" y1="535.3" x2="1182.7" y2="539.1" stroke="#8a8a8a" stroke-width="1.2"/>
<line x1="1204.5" y1="546.1" x2="1196.4" y2="548.2" stroke="#7f7f7f" stroke-width="1.2"/>
<line x1="1220.6" y1="536.6" x2="1220.5" y2="545.7" stroke="#8a8a8a" stroke-width="1.2"/>
<line x1="1226.9" y1="534.0" x2="1227.4" y2="542.0" stroke="#7f7f7f" stroke-width="1.2"/>
<line x1="1254.3" y1="537.4" x2="1248.5" y2="544.5" stroke="#6a6a6a" stroke-width="1.2"/>
<line x1="1254.4" y1="537.3" x2="1262.6" y2="541.8" stroke="#7f7f7f" stroke-width="1.2"/>
<line x1="1281.0" y1="541.4" x2="1285.1" y2="546.3" stroke="#6a6a6a" stroke-width="1.2"/>
<line x1="1299.8" y1="539.2" x2="1297.6" y2="545.1" stroke="#7f7f7f" stroke-width="1.2"/>
<line x1="1305.1" y1="539.2" x2="1305.6" y2="546.6" stroke="#8a8a8a" stroke-width="1.2"/>
<line x1="1335.2" y1="537.5" x2="1333.7" y2="543.9" stroke="#7f7f7f" stroke-width="1.2"/>
<line x1="1344.2" y1="538.3" x2="1337.8" y2="541.9" stroke="#7f7f7f" stroke-width="1.2"/>
<line x1="1153.8" y1="552.0" x2="1154.1" y2="561.9" stroke="#7f7f7f" stroke-width="1.2"/>
<line x1="1175.0" y1="559.8" x2="1172.0" y2="568.9" stroke="#6a6a6a" stroke-width="1.2"/>
<line x1="1190.1" y1="556.1" x2="1187.6" y2="562.1" stroke="#6a6a6a" stroke-width="1.2"/>
<line x1="1205.2" y1="549.5" x2="1207.7" y2="555.0" stroke="#6a6a6a" stroke-width="1.2"/>
<line x1="1213.4" y1="551.6" x2="1206.3" y2="551.9" stroke="#7f7f7f" stroke-width="1.2"/>
<line x1="1225.5" y1="562.0" x2="1223.4" y2="571.1" stroke="#7f7f7f" stroke-width="1.2"/>
<line x1="1252.4" y1="566.3" x2="1244.0" y2="566.6" stroke="#6a6a6a" stroke-width="1.2"/>
<line x1="1254.5" y1="553.7" x2="1262.1" y2="554.3" stroke="#6a6a6a" stroke-width="1.2"/>
<line x1="1288.5" y1="554.7" x2="1284.6" y2="561.0" stroke="#7f7f7f" stroke-width="1.2"/>
<line x1="1296.4" y1="548.9" x2="1288.4" y2="553.7" stroke="#6a6a6a" stroke-width="1.2"/>
<line x1="1307.2" y1="549.1" x2="1303.8" y2="558.1" stroke="#6a6a6a" stroke-width="1.2"/>
<line x1="1323.5" y1="551.7" x2="1322.4" y2="558.4" stroke="#8a8a8a" stroke-width="1.2"/>
<line x1="1152.4" y1="574.1" x2="1148.9" y2="579.3" stroke="#8a8a8a" stroke-width="1.2"/>
<line x1="1163.3" y1="576.7" x2="1163.4" y2="582.8" stroke="#7f7f7f" stroke-width="1.2"/>
<line x1="1187.3" y1="574.8" x2="1193.4" y2="579.0" stroke="#8a8a8a" stroke-width="1.2"/>
<line x1="1205.7" y1="577.2" x2="1210.1" y2="583.5" stroke="#6a6a6a" stroke-width="1.2"/>
<line x1="1217.5" y1="577.0" x2="1211.3" y2="578.1" stroke="#7f7f7f" stroke-width="1.2"/>
<line x1="1229.3" y1="576.4" x2="1227.3" y2="585.8" stroke="#6a6a6a" stroke-width="1.2"/>
<line x1="1251.5" y1="569.8" x2="1244.8" y2="571.0" stroke="#6a6a6a" stroke-width="1.2"/>
<line x1="1271.8" y1="575.6" x2="1268.1" y2="583.5" stroke="#7f7f7f" stroke-width="1.2"/>
<line x1="1284.5" y1="564.9" x2="1287.3" y2="573.0" stroke="#7f7f7f" stroke-width="1.2"/>
<line x1="1305.1" y1="563.9" x2="1299.2" y2="571.5" stroke="#7f7f7f" stroke-width="1.2"/>
<line x1="1314.7" y1="568.7" x2="1309.0" y2="571.1" stroke="#7f7f7f" stroke-width="1.2"/>
<line x1="1330.2" y1="579.3" x2="1324.3" y2="582.9" stroke="#6a6a6a" stroke-width="1.2"/>
<line x1="1341.8" y1="569.3" x2="1334.1" y2="571.1" stroke="#8a8a8a" stroke-width="1.2"/>
<line x1="1150.7" y1="588.6" x2="1153.5" y2="595.3" stroke="#7f7f7f" stroke-width="1.2"/>
<line x1="1161.5" y1="595.9" x2="1168.2" y2="599.2" stroke="#6a6a6a" stroke-width="1.2"/>
<line x1="1175.5" y1="585.8" x2="1180.6" y2="592.2" stroke="#7f7f7f" stroke-width="1.2"/>
<line x1="1197.7" y1="594.9" x2="1202.1" y2="601.8" stroke="#6a6a6a" stroke-width="1.2"/>
<line x1="1226.4" y1="595.1" x2="1218.6" y2="596.6" stroke="#6a6a6a" stroke-width="1.2"/>
<line x1="1230.6" y1="581.3" x2="1231.0" y2="587.4" stroke="#6a6a6a" stroke-width="1.2"/>
<line x1="1254.6" y1="581.7" x2="1248.8" y2="587.2" stroke="#7f7f7f" stroke-width="1.2"/>
<line x1="1265.6" y1="591.5" x2="1268.3" y2="598.2" stroke="#6a6a6a" stroke-width="1.2"/>
<line x1="1279.8" y1="591.0" x2="1285.4" y2="596.5" stroke="#7f7f7f" stroke-width="1.2"/>
<line x1="1295.5" y1="585.4" x2="1300.1" y2="592.9" stroke="#8a8a8a" stroke-width="1.2"/>
<line x1="1316.1" y1="590.6" x2="1322.3" y2="594.4" stroke="#7f7f7f" stroke-width="1.2"/>
<line x1="1328.5" y1="587.3" x2="1330.3" y2="595.5" stroke="#8a8a8a" stroke-width="1.2"/>
<line x1="1159.6" y1="605.6" x2="1158.3" y2="612.2" stroke="#8a8a8a" stroke-width="1.2"/>
<line x1="1166.0" y1="601.7" x2="1160.0" y2="607.6" stroke="#8a8a8a" stroke-width="1.2"/>
<line x1="1184.9" y1="605.2" x2="1187.6" y2="614.4" stroke="#6a6a6a" stroke-width="1.2"/>
<line x1="1198.0" y1="602.5" x2="1198.0" y2="611.4" stroke="#8a8a8a" stroke-width="1.2"/>
<line x1="1214.5" y1="602.9" x2="1223.9" y2="605.3" stroke="#6a6a6a" stroke-width="1.2"/>
<line x1="1235.3" y1="597.1" x2="1230.1" y2="603.6" stroke="#8a8a8a" stroke-width="1.2"/>
<line x1="1241.7" y1="607.6" x2="1244.0" y2="616.6" stroke="#7f7f7f" stroke-width="1.2"/>
<line x1="1255.3" y1="603.2" x2="1262.8" y2="606.1" stroke="#7f7f7f" stroke-width="1.2"/>
<line x1="1276.8" y1="601.9" x2="1280.8" y2="606.8" stroke="#7f7f7f" stroke-width="1.2"/>
<line x1="1301.8" y1="611.3" x2="1295.9" y2="612.4" stroke="#6a6a6a" stroke-width="1.2"/>
<line x1="1306.8" y1="601.3" x2="1304.2" y2="607.7" stroke="#6a6a6a" stroke-width="1.2"/>
<line x1="1325.0" y1="599.5" x2="1324.4" y2="606.9" stroke="#8a8a8a" stroke-width="1.2"/>
<line x1="1164.1" y1="614.3" x2="1172.7" y2="616.3" stroke="#6a6a6a" stroke-width="1.2"/>
<line x1="1193.0" y1="628.8" x2="1186.1" y2="629.6" stroke="#7f7f7f" stroke-width="1.2"/>
<line x1="1207.5" y1="616.5" x2="1201.2" y2="620.1" stroke="#8a8a8a" stroke-width="1.2"/>
<line x1="1213.2" y1="623.1" x2="1217.2" y2="630.4" stroke="#7f7f7f" stroke-width="1.2"/>
<line x1="1226.9" y1="622.0" x2="1229.2" y2="627.8" stroke="#8a8a8a" stroke-width="1.2"/>
<line x1="1239.7" y1="619.8" x2="1246.5" y2="624.7" stroke="#6a6a6a" stroke-width="1.2"/>
<line x1="1268.5" y1="623.2" x2="1260.8" y2="627.7" stroke="#8a8a8a" stroke-width="1.2"/>
<line x1="1278.7" y1="622.9" x2="1285.6" y2="626.7" stroke="#6a6a6a" stroke-width="1.2"/>
<line x1="1287.3" y1="614.3" x2="1290.4" y2="621.4" stroke="#7f7f7f" stroke-width="1.2"/>
<line x1="1302.9" y1="620.0" x2="1307.3" y2="626.4" stroke="#6a6a6a" stroke-width="1.2"/>
<line x1="1326.0" y1="622.9" x2="1317.6" y2="625.6" stroke="#6a6a6a" stroke-width="1.2"/>
<line x1="1169.4" y1="628.2" x2="1172.7" y2="635.4" stroke="#7f7f7f" stroke-width="1.2"/>
<line x1="1180.4" y1="633.9" x2="1186.2" y2="637.3" stroke="#7f7f7f" stroke-width="1.2"/>
<line x1="1198.6" y1="639.3" x2="1200.0" y2="647.1" stroke="#7f7f7f" stroke-width="1.2"/>
<line x1="1225.1" y1="631.7" x2="1220.7" y2="639.4" stroke="#6a6a6a" stroke-width="1.2"/>
<line x1="1228.5" y1="635.6" x2="1222.3" y2="637.8" stroke="#8a8a8a" stroke-width="1.2"/>
<line x1="1240.0" y1="639.4" x2="1245.9" y2="643.1" stroke="#8a8a8a" stroke-width="1.2"/>
<line x1="1263.4" y1="630.3" x2="1258.6" y2="637.1" stroke="#7f7f7f" stroke-width="1.2"/>
<line x1="1281.0" y1="629.8" x2="1280.4" y2="638.9" stroke="#6a6a6a" stroke-width="1.2"/>
<line x1="1298.5" y1="637.6" x2="1304.0" y2="641.1" stroke="#8a8a8a" stroke-width="1.2"/>
<line x1="1318.3" y1="634.0" x2="1319.9" y2="640.2" stroke="#7f7f7f" stroke-width="1.2"/>
<line x1="1187.5" y1="656.0" x2="1196.5" y2="657.3" stroke="#7f7f7f" stroke-width="1.2"/>
<line x1="1212.7" y1="657.1" x2="1204.1" y2="660.3" stroke="#7f7f7f" stroke-width="1.2"/>
<line x1="1204.8" y1="653.4" x2="1213.1" y2="655.8" stroke="#7f7f7f" stroke-width="1.2"/>
<line x1="1230.2" y1="658.8" x2="1224.6" y2="664.7" stroke="#8a8a8a" stroke-width="1.2"/>
<line x1="1249.2" y1="648.7" x2="1252.6" y2="655.6" stroke="#6a6a6a" stroke-width="1.2"/>
<line x1="1271.8" y1="652.1" x2="1271.6" y2="660.2" stroke="#8a8a8a" stroke-width="1.2"/>
<line x1="1278.5" y1="649.8" x2="1272.0" y2="651.4" stroke="#6a6a6a" stroke-width="1.2"/>
<line x1="1292.4" y1="652.0" x2="1296.6" y2="658.4" stroke="#8a8a8a" stroke-width="1.2"/>
<line x1="1233.2" y1="661.2" x2="1229.7" y2="669.2" stroke="#6a6a6a" stroke-width="1.2"/>
<line x1="1256.6" y1="669.9" x2="1247.6" y2="673.4" stroke="#6a6a6a" stroke-width="1.2"/>
<line x1="1266.0" y1="669.4" x2="1270.4" y2="673.8" stroke="#8a8a8a" stroke-width="1.2"/>
<line x1="1289.7" y1="659.1" x2="1297.4" y2="665.4" stroke="#8a8a8a" stroke-width="1.2"/>
<line x1="1254.9" y1="476.2" x2="1252.5" y2="485.8" stroke="#ffe699" stroke-width="1.2"/>
<line x1="1274.4" y1="485.8" x2="1281.1" y2="486.2" stroke="#ffeeb0" stroke-width="1.2"/>
<line x1="1289.7" y1="483.5" x2="1285.3" y2="491.4" stroke="#ffe699" stroke-width="1.2"/>
<line x1="1295.3" y1="482.4" x2="1300.8" y2="487.5" stroke="#f5dc8c" stroke-width="1.2"/>
<line x1="1231.4" y1="490.6" x2="1233.3" y2="496.3" stroke="#f5dc8c" stroke-width="1.2"/>
<line x1="1250.5" y1="503.7" x2="1246.6" y2="511.9" stroke="#ffe699" stroke-width="1.2"/>
<line x1="1267.0" y1="487.3" x2="1266.6" y2="497.1" stroke="#ffeeb0" stroke-width="1.2"/>
<line x1="1279.3" y1="494.8" x2="1285.8" y2="494.9" stroke="#f5dc8c" stroke-width="1.2"/>
<line x1="1308.1" y1="500.5" x2="1303.2" y2="504.3" stroke="#ffe699" stroke-width="1.2"/>
<line x1="1319.7" y1="502.0" x2="1319.4" y2="508.5" stroke="#f5dc8c" stroke-width="1.2"/>
<line x1="1330.6" y1="505.0" x2="1336.1" y2="508.6" stroke="#ffeeb0" stroke-width="1.2"/>
<line x1="1206.6" y1="522.3" x2="1212.2" y2="526.4" stroke="#f5dc8c" stroke-width="1.2"/>
<line x1="1224.2" y1="512.5" x2="1231.2" y2="516.2" stroke="#ffe699" stroke-width="1.2"/>
<line x1="1235.7" y1="521.3" x2="1244.4" y2="526.1" stroke="#f5dc8c" stroke-width="1.2"/>
<line x1="1246.9" y1="518.4" x2="1256.6" y2="520.3" stroke="#ffeeb0" stroke-width="1.2"/>
<line x1="1263.4" y1="513.1" x2="1263.1" y2="520.1" stroke="#ffe699" stroke-width="1.2"/>
<line x1="1284.5" y1="515.7" x2="1284.4" y2="522.6" stroke="#ffe699" stroke-width="1.2"/>
<line x1="1312.5" y1="511.9" x2="1305.9" y2="518.7" stroke="#f5dc8c" stroke-width="1.2"/>
<line x1="1332.8" y1="508.3" x2="1328.4" y2="515.2" stroke="#ffe699" stroke-width="1.2"/>
<line x1="1346.8" y1="506.5" x2="1342.1" y2="513.5" stroke="#ffe699" stroke-width="1.2"/>
<line x1="1356.2" y1="508.4" x2="1356.6" y2="516.6" stroke="#f5dc8c" stroke-width="1.2"/>
<line x1="1201.9" y1="538.7" x2="1209.6" y2="541.3" stroke="#f5dc8c" stroke-width="1.2"/>
<line x1="1219.1" y1="535.2" x2="1217.0" y2="542.8" stroke="#ffeeb0" stroke-width="1.2"/>
<line x1="1237.7" y1="539.5" x2="1231.9" y2="542.4" stroke="#f5dc8c" stroke-width="1.2"/>
<line x1="1265.4" y1="536.8" x2="1257.3" y2="539.6" stroke="#f5dc8c" stroke-width="1.2"/>
<line x1="1282.3" y1="530.8" x2="1272.9" y2="531.4" stroke="#f5dc8c" stroke-width="1.2"/>
<line x1="1287.5" y1="531.6" x2="1291.8" y2="540.1" stroke="#ffeeb0" stroke-width="1.2"/>
<line x1="1308.4" y1="534.6" x2="1310.6" y2="543.6" stroke="#f5dc8c" stroke-width="1.2"/>
<line x1="1330.2" y1="527.0" x2="1323.7" y2="531.0" stroke="#ffeeb0" stroke-width="1.2"/>
<line x1="1350.1" y1="531.8" x2="1345.7" y2="536.7" stroke="#ffe699" stroke-width="1.2"/>
<line x1="1352.2" y1="533.8" x2="1359.2" y2="535.0" stroke="#f5dc8c" stroke-width="1.2"/>
<line x1="1187.4" y1="548.3" x2="1183.8" y2="556.4" stroke="#ffe699" stroke-width="1.2"/>
<line x1="1205.7" y1="543.9" x2="1199.1" y2="545.2" stroke="#ffe699" stroke-width="1.2"/>
<line x1="1218.4" y1="554.1" x2="1215.3" y2="559.9" stroke="#ffeeb0" stroke-width="1.2"/>
<line x1="1242.4" y1="548.2" x2="1244.4" y2="555.8" stroke="#ffe699" stroke-width="1.2"/>
<line x1="1244.8" y1="551.7" x2="1251.2" y2="554.8" stroke="#f5dc8c" stroke-width="1.2"/>
<line x1="1260.9" y1="544.7" x2="1266.0" y2="549.6" stroke="#ffe699" stroke-width="1.2"/>
<line x1="1284.5" y1="557.0" x2="1286.2" y2="563.4" stroke="#ffe699" stroke-width="1.2"/>
<line x1="1295.4" y1="547.6" x2="1304.0" y2="552.2" stroke="#f5dc8c" stroke-width="1.2"/>
<line x1="1321.6" y1="557.6" x2="1328.5" y2="562.7" stroke="#f5dc8c" stroke-width="1.2"/>
<line x1="1340.6" y1="559.8" x2="1333.0" y2="561.0" stroke="#f5dc8c" stroke-width="1.2"/>
<line x1="1361.6" y1="549.1" x2="1354.0" y2="554.8" stroke="#ffeeb0" stroke-width="1.2"/>
<line x1="1368.5" y1="548.7" x2="1374.3" y2="551.4" stroke="#ffe699" stroke-width="1.2"/>
<line x1="1178.0" y1="564.4" x2="1184.0" y2="568.6" stroke="#ffeeb0" stroke-width="1.2"/>
<line x1="1194.9" y1="561.5" x2="1194.4" y2="569.0" stroke="#f5dc8c" stroke-width="1.2"/>
<line x1="1221.4" y1="573.3" x2="1215.2" y2="575.2" stroke="#ffeeb0" stroke-width="1.2"/>
<line x1="1242.7" y1="561.7" x2="1235.9" y2="562.1" stroke="#f5dc8c" stroke-width="1.2"/>
<line x1="1245.7" y1="564.9" x2="1247.2" y2="572.9" stroke="#ffe699" stroke-width="1.2"/>
<line x1="1270.3" y1="560.7" x2="1278.3" y2="564.5" stroke="#ffeeb0" stroke-width="1.2"/>
<line x1="1289.3" y1="561.5" x2="1281.2" y2="563.5" stroke="#ffeeb0" stroke-width="1.2"/>
<line x1="1307.4" y1="571.7" x2="1313.2" y2="574.2" stroke="#ffe699" stroke-width="1.2"/>
<line x1="1331.6" y1="574.2" x2="1325.2" y2="576.5" stroke="#ffeeb0" stroke-width="1.2"/>
<line x1="1334.2" y1="557.3" x2="1330.4" y2="564.7" stroke="#ffeeb0" stroke-width="1.2"/>
<line x1="1348.5" y1="571.3" x2="1351.9" y2="576.5" stroke="#ffeeb0" stroke-width="1.2"/>
<line x1="1381.4" y1="566.3" x2="1379.0" y2="571.9" stroke="#ffeeb0" stroke-width="1.2"/>
<line x1="1179.5" y1="585.6" x2="1182.1" y2="593.9" stroke="#ffeeb0" stroke-width="1.2"/>
<line x1="1208.5" y1="575.7" x2="1213.2" y2="583.4" stroke="#ffeeb0" stroke-width="1.2"/>
<line x1="1227.2" y1="575.8" x2="1221.6" y2="582.8" stroke="#ffeeb0" stroke-width="1.2"/>
<line x1="1241.0" y1="581.4" x2="1235.7" y2="585.0" stroke="#ffeeb0" stroke-width="1.2"/>
<line x1="1246.0" y1="581.6" x2="1253.4" y2="582.9" stroke="#ffeeb0" stroke-width="1.2"/>
<line x1="1260.7" y1="582.4" x2="1266.6" y2="584.2" stroke="#f5dc8c" stroke-width="1.2"/>
<line x1="1295.2" y1="589.0" x2="1289.2" y2="595.2" stroke="#ffe699" stroke-width="1.2"/>
<line x1="1308.9" y1="579.5" x2="1318.4" y2="580.2" stroke="#ffe699" stroke-width="1.2"/>
<line x1="1317.6" y1="589.0" x2="1319.8" y2="596.4" stroke="#ffeeb0" stroke-width="1.2"/>
<line x1="1336.4" y1="580.7" x2="1345.4" y2="581.6" stroke="#f5dc8c" stroke-width="1.2"/>
<line x1="1348.0" y1="580.9" x2="1351.7" y2="585.8" stroke="#ffe699" stroke-width="1.2"/>
<line x1="1374.9" y1="581.8" x2="1374.9" y2="589.2" stroke="#f5dc8c" stroke-width="1.2"/>
<line x1="1185.1" y1="608.1" x2="1189.5" y2="614.4" stroke="#ffeeb0" stroke-width="1.2"/>
<line x1="1201.1" y1="601.9" x2="1207.4" y2="602.0" stroke="#ffeeb0" stroke-width="1.2"/>
<line x1="1218.0" y1="606.7" x2="1217.1" y2="614.5" stroke="#f5dc8c" stroke-width="1.2"/>
<line x1="1236.3" y1="604.1" x2="1237.4" y2="610.2" stroke="#f5dc8c" stroke-width="1.2"/>
<line x1="1265.1" y1="605.8" x2="1255.9" y2="607.5" stroke="#ffe699" stroke-width="1.2"/>
<line x1="1281.7" y1="606.5" x2="1274.4" y2="608.9" stroke="#f5dc8c" stroke-width="1.2"/>
<line x1="1294.2" y1="601.8" x2="1289.0" y2="605.2" stroke="#ffe699" stroke-width="1.2"/>
<line x1="1308.7" y1="596.6" x2="1305.9" y2="604.4" stroke="#ffe699" stroke-width="1.2"/>
<line x1="1315.7" y1="599.6" x2="1320.3" y2="607.1" stroke="#ffeeb0" stroke-width="1.2"/>
<line x1="1346.5" y1="605.5" x2="1342.8" y2="610.6" stroke="#ffeeb0" stroke-width="1.2"/>
<line x1="1360.7" y1="596.0" x2="1358.2" y2="603.7" stroke="#ffe699" stroke-width="1.2"/>
<line x1="1371.6" y1="602.1" x2="1365.3" y2="607.6" stroke="#ffeeb0" stroke-width="1.2"/>
<line x1="1180.4" y1="614.0" x2="1188.5" y2="615.8" stroke="#f5dc8c" stroke-width="1.2"/>
<line x1="1206.7" y1="615.7" x2="1200.9" y2="619.7" stroke="#ffeeb0" stroke-width="1.2"/>
<line x1="1218.4" y1="624.3" x2="1226.5" y2="625.0" stroke="#ffeeb0" stroke-width="1.2"/>
<line x1="1247.7" y1="627.7" x2="1238.4" y2="629.7" stroke="#ffe699" stroke-width="1.2"/>
<line x1="1252.6" y1="623.9" x2="1247.8" y2="628.3" stroke="#f5dc8c" stroke-width="1.2"/>
<line x1="1275.7" y1="612.3" x2="1268.6" y2="613.9" stroke="#f5dc8c" stroke-width="1.2"/>
<line x1="1285.3" y1="621.1" x2="1275.8" y2="623.1" stroke="#ffeeb0" stroke-width="1.2"/>
<line x1="1309.9" y1="621.3" x2="1318.1" y2="625.9" stroke="#ffeeb0" stroke-width="1.2"/>
<line x1="1333.7" y1="623.1" x2="1328.7" y2="627.7" stroke="#ffe699" stroke-width="1.2"/>
<line x1="1334.9" y1="620.4" x2="1334.5" y2="628.7" stroke="#f5dc8c" stroke-width="1.2"/>
<line x1="1359.3" y1="617.1" x2="1352.9" y2="619.2" stroke="#f5dc8c" stroke-width="1.2"/>
<line x1="1374.7" y1="619.7" x2="1382.5" y2="621.0" stroke="#ffe699" stroke-width="1.2"/>
<line x1="1194.5" y1="638.3" x2="1189.6" y2="646.8" stroke="#f5dc8c" stroke-width="1.2"/>
<line x1="1211.6" y1="628.6" x2="1203.9" y2="633.6" stroke="#ffe699" stroke-width="1.2"/>
<line x1="1219.8" y1="634.3" x2="1212.9" y2="638.7" stroke="#f5dc8c" stroke-width="1.2"/>
<line x1="1230.1" y1="641.1" x2="1239.9" y2="642.7" stroke="#f5dc8c" stroke-width="1.2"/>
<line x1="1265.3" y1="634.3" x2="1258.1" y2="636.4" stroke="#ffe699" stroke-width="1.2"/>
<line x1="1271.7" y1="641.1" x2="1264.8" y2="642.0" stroke="#f5dc8c" stroke-width="1.2"/>
<line x1="1292.8" y1="632.9" x2="1301.4" y2="636.0" stroke="#ffeeb0" stroke-width="1.2"/>
<line x1="1300.3" y1="631.0" x2="1309.3" y2="631.9" stroke="#ffeeb0" stroke-width="1.2"/>
<line x1="1326.5" y1="630.2" x2="1335.6" y2="633.4" stroke="#ffeeb0" stroke-width="1.2"/>
<line x1="1335.4" y1="627.8" x2="1332.3" y2="633.7" stroke="#f5dc8c" stroke-width="1.2"/>
<line x1="1351.0" y1="633.0" x2="1352.1" y2="641.2" stroke="#f5dc8c" stroke-width="1.2"/>
<line x1="1205.4" y1="652.0" x2="1200.2" y2="655.0" stroke="#ffeeb0" stroke-width="1.2"/>
<line x1="1225.0" y1="653.1" x2="1229.5" y2="658.9" stroke="#ffeeb0" stroke-width="1.2"/>
<line x1="1238.3" y1="647.1" x2="1245.7" y2="649.9" stroke="#ffe699" stroke-width="1.2"/>
<line x1="1258.1" y1="659.6" x2="1264.1" y2="662.8" stroke="#ffeeb0" stroke-width="1.2"/>
<line x1="1268.6" y1="656.3" x2="1262.5" y2="660.1" stroke="#ffeeb0" stroke-width="1.2"/>
<line x1="1294.2" y1="654.1" x2="1297.8" y2="659.6" stroke="#ffeeb0" stroke-width="1.2"/>
<line x1="1299.9" y1="647.2" x2="1298.6" y2="653.1" stroke="#f5dc8c" stroke-width="1.2"/>
<line x1="1325.1" y1="649.8" x2="1329.4" y2="656.8" stroke="#ffeeb0" stroke-width="1.2"/>
<line x1="1347.0" y1="658.2" x2="1339.8" y2="659.2" stroke="#ffeeb0" stroke-width="1.2"/>
<line x1="1358.6" y1="647.6" x2="1351.8" y2="650.9" stroke="#ffe699" stroke-width="1.2"/>
<line x1="1370.4" y1="646.5" x2="1371.2" y2="655.7" stroke="#ffe699" stroke-width="1.2"/>
<line x1="1199.2" y1="669.4" x2="1202.6" y2="675.9" stroke="#ffe699" stroke-width="1.2"/>
<line x1="1220.2" y1="671.9" x2="1220.1" y2="679.9" stroke="#ffe699" stroke-width="1.2"/>
<line x1="1234.8" y1="664.4" x2="1239.1" y2="669.4" stroke="#ffe699" stroke-width="1.2"/>
<line x1="1257.4" y1="662.3" x2="1263.6" y2="666.1" stroke="#ffe699" stroke-width="1.2"/>
<line x1="1265.7" y1="664.1" x2="1268.5" y2="669.6" stroke="#ffeeb0" stroke-width="1.2"/>
<line x1="1287.9" y1="674.5" x2="1288.3" y2="682.9" stroke="#f5dc8c" stroke-width="1.2"/>
<line x1="1307.0" y1="677.1" x2="1301.4" y2="681.6" stroke="#f5dc8c" stroke-width="1.2"/>
<line x1="1315.4" y1="665.4" x2="1322.5" y2="665.7" stroke="#ffe699" stroke-width="1.2"/>
<line x1="1347.0" y1="672.6" x2="1341.0" y2="677.2" stroke="#ffeeb0" stroke-width="1.2"/>
<line x1="1354.5" y1="676.9" x2="1353.3" y2="684.5" stroke="#f5dc8c" stroke-width="1.2"/>
<line x1="1218.4" y1="683.1" x2="1212.5" y2="690.2" stroke="#ffeeb0" stroke-width="1.2"/>
<line x1="1236.5" y1="680.4" x2="1241.8" y2="683.2" stroke="#ffe699" stroke-width="1.2"/>
<line x1="1253.1" y1="681.3" x2="1255.2" y2="687.6" stroke="#ffeeb0" stroke-width="1.2"/>
<line x1="1265.9" y1="677.6" x2="1263.2" y2="685.2" stroke="#ffeeb0" stroke-width="1.2"/>
<line x1="1283.8" y1="688.6" x2="1280.6" y2="694.3" stroke="#ffe699" stroke-width="1.2"/>
<line x1="1311.6" y1="685.7" x2="1313.5" y2="691.6" stroke="#ffe699" stroke-width="1.2"/>
<line x1="1329.0" y1="682.1" x2="1329.2" y2="689.3" stroke="#ffeeb0" stroke-width="1.2"/>
<line x1="1340.0" y1="694.3" x2="1343.5" y2="699.9" stroke="#ffe699" stroke-width="1.2"/>
<line x1="1220.6" y1="696.9" x2="1229.0" y2="700.8" stroke="#ffe699" stroke-width="1.2"/>
<line x1="1238.4" y1="697.8" x2="1232.6" y2="704.0" stroke="#ffe699" stroke-width="1.2"/>
<line x1="1266.1" y1="697.3" x2="1258.8" y2="701.2" stroke="#f5dc8c" stroke-width="1.2"/>
<line x1="1278.9" y1="712.6" x2="1274.5" y2="717.9" stroke="#ffe699" stroke-width="1.2"/>
<line x1="1297.3" y1="700.4" x2="1295.7" y2="706.6" stroke="#ffeeb0" stroke-width="1.2"/>
<line x1="1308.3" y1="695.3" x2="1306.8" y2="704.4" stroke="#f5dc8c" stroke-width="1.2"/>
<line x1="1342.8" y1="698.4" x2="1336.0" y2="698.6" stroke="#ffe699" stroke-width="1.2"/>
<line x1="1263.2" y1="719.5" x2="1258.6" y2="724.0" stroke="#ffe699" stroke-width="1.2"/>
<line x1="1285.3" y1="715.4" x2="1294.5" y2="718.6" stroke="#ffeeb0" stroke-width="1.2"/>
<line x1="1300.3" y1="711.8" x2="1299.3" y2="720.4" stroke="#f5dc8c" stroke-width="1.2"/>
</g>
<path d="M1506.6,332.7 C1508.3,338.9 1513.6,344.4 1513.6,350.7 A7.0,7.0 0 0 1 1499.6,350.7 C1499.6,344.4 1504.8,338.9 1506.6,332.7 Z" fill="#8eaadb"/>
<path d="M1531.3,332.7 C1533.0,338.9 1538.3,344.4 1538.3,350.7 A7.0,7.0 0 0 1 1524.3,350.7 C1524.3,344.4 1529.5,338.9 1531.3,332.7 Z" fill="#8eaadb"/>
<path d="M1581.3,332.7 C1583.0,338.9 1588.3,344.4 1588.3,350.7 A7.0,7.0 0 0 1 1574.3,350.7 C1574.3,344.4 1579.5,338.9 1581.3,332.7 Z" fill="#8eaadb"/>
<path d="M1521.6,382.6 C1523.3,388.9 1528.6,394.3 1528.6,400.6 A7.0,7.0 0 0 1 1514.6,400.6 C1514.6,394.3 1519.8,388.9 1521.6,382.6 Z" fill="#8eaadb"/>
<path d="M1571.3,382.6 C1573.0,388.9 1578.3,394.3 1578.3,400.6 A7.0,7.0 0 0 1 1564.3,400.6 C1564.3,394.3 1569.5,388.9 1571.3,382.6 Z" fill="#8eaadb"/>
<path d="M1481.8,432.7 C1483.5,438.9 1488.8,444.4 1488.8,450.7 A7.0,7.0 0 0 1 1474.8,450.7 C1474.8,444.4 1480.0,438.9 1481.8,432.7 Z" fill="#8eaadb"/>
<path d="M1506.6,432.7 C1508.3,438.9 1513.6,444.4 1513.6,450.7 A7.0,7.0 0 0 1 1499.6,450.7 C1499.6,444.4 1504.8,438.9 1506.6,432.7 Z" fill="#8eaadb"/>
<path d="M1556.4,432.7 C1558.2,438.9 1563.4,444.4 1563.4,450.7 A7.0,7.0 0 0 1 1549.4,450.7 C1549.4,444.4 1554.7,438.9 1556.4,432.7 Z" fill="#8eaadb"/>
<path d="M1606.5,432.7 C1608.2,438.9 1613.5,444.4 1613.5,450.7 A7.0,7.0 0 0 1 1599.5,450.7 C1599.5,444.4 1604.8,438.9 1606.5,432.7 Z" fill="#8eaadb"/>
<path d="M1496.7,482.3 C1498.5,488.6 1503.7,494.0 1503.7,500.3 A7.0,7.0 0 0 1 1489.7,500.3 C1489.7,494.0 1495.0,488.6 1496.7,482.3 Z" fill="#8eaadb"/>
<path d="M1571.2,482.3 C1573.0,488.6 1578.2,494.0 1578.2,500.3 A7.0,7.0 0 0 1 1564.2,500.3 C1564.2,494.0 1569.5,488.6 1571.2,482.3 Z" fill="#8eaadb"/>
<path d="M1596.3,482.3 C1598.0,488.6 1603.3,494.0 1603.3,500.3 A7.0,7.0 0 0 1 1589.3,500.3 C1589.3,494.0 1594.5,488.6 1596.3,482.3 Z" fill="#8eaadb"/>
<g transform="translate(1558.0,554.2) rotate(-3)"><ellipse cx="0" cy="-15" rx="3.4" ry="7.8" fill="#e2e2e2" stroke="#fbfbfb" stroke-width="1" transform="rotate(0)"/><ellipse cx="0" cy="-15" rx="3.4" ry="7.8" fill="#e2e2e2" stroke="#fbfbfb" stroke-width="1" transform="rotate(45)"/><ellipse cx="0" cy="-15" rx="3.4" ry="7.8" fill="#e2e2e2" stroke="#fbfbfb" stroke-width="1" transform="rotate(90)"/><ellipse cx="0" cy="-15" rx="3.4" ry="7.8" fill="#e2e2e2" stroke="#fbfbfb" stroke-width="1" transform="rotate(135)"/><ellipse cx="0" cy="-15" rx="3.4" ry="7.8" fill="#e2e2e2" stroke="#fbfbfb" stroke-width="1" transform="rotate(180)"/><ellipse cx="0" cy="-15" rx="3.4" ry="7.8" fill="#e2e2e2" stroke="#fbfbfb" stroke-width="1" transform="rotate(225)"/><ellipse cx="0" cy="-15" rx="3.4" ry="7.8" fill="#e2e2e2" stroke="#fbfbfb" stroke-width="1" transform="rotate(270)"/><ellipse cx="0" cy="-15" rx="3.4" ry="7.8" fill="#e2e2e2" stroke="#fbfbfb" stroke-width="1" transform="rotate(315)"/><circle r="5.2" fill="#ffc000"/></g>
<g transform="translate(1609.9,580.9) rotate(-3)"><ellipse cx="0" cy="-15" rx="3.4" ry="7.8" fill="#e2e2e2" stroke="#fbfbfb" stroke-width="1" transform="rotate(0)"/><ellipse cx="0" cy="-15" rx="3.4" ry="7.8" fill="#e2e2e2" stroke="#fbfbfb" stroke-width="1" transform="rotate(45)"/><ellipse cx="0" cy="-15" rx="3.4" ry="7.8" fill="#e2e2e2" stroke="#fbfbfb" stroke-width="1" transform="rotate(90)"/><ellipse cx="0" cy="-15" rx="3.4" ry="7.8" fill="#e2e2e2" stroke="#fbfbfb" stroke-width="1" transform="rotate(135)"/><ellipse cx="0" cy="-15" rx="3.4" ry="7.8" fill="#e2e2e2" stroke="#fbfbfb" stroke-width="1" transform="rotate(180)"/><ellipse cx="0" cy="-15" rx="3.4" ry="7.8" fill="#e2e2e2" stroke="#fbfbfb" stroke-width="1" transform="rotate(225)"/><ellipse cx="0" cy="-15" rx="3.4" ry="7.8" fill="#e2e2e2" stroke="#fbfbfb" stroke-width="1" transform="rotate(270)"/><ellipse cx="0" cy="-15" rx="3.4" ry="7.8" fill="#e2e2e2" stroke="#fbfbfb" stroke-width="1" transform="rotate(315)"/><circle r="5.2" fill="#ffc000"/></g>
<g transform="translate(1503.3,575.7) rotate(-3)"><ellipse cx="0" cy="-15" rx="3.4" ry="7.8" fill="#e4e4e4" transform="rotate(0)"/><ellipse cx="0" cy="-15" rx="3.4" ry="7.8" fill="#e4e4e4" transform="rotate(45)"/><ellipse cx="0" cy="-15" rx="3.4" ry="7.8" fill="#e4e4e4" transform="rotate(90)"/><ellipse cx="0" cy="-15" rx="3.4" ry="7.8" fill="#e4e4e4" transform="rotate(135)"/><ellipse cx="0" cy="-15" rx="3.4" ry="7.8" fill="#e4e4e4" transform="rotate(180)"/><ellipse cx="0" cy="-15" rx="3.4" ry="7.8" fill="#e4e4e4" transform="rotate(225)"/><ellipse cx="0" cy="-15" rx="3.4" ry="7.8" fill="#e4e4e4" transform="rotate(270)"/><ellipse cx="0" cy="-15" rx="3.4" ry="7.8" fill="#e4e4e4" transform="rotate(315)"/><circle r="5.2" fill="#ffc000"/></g>
<g transform="translate(1554.0,631.7) rotate(-3)"><ellipse cx="0" cy="-15" rx="3.4" ry="7.8" fill="#e2e2e2" stroke="#fbfbfb" stroke-width="1" transform="rotate(0)"/><ellipse cx="0" cy="-15" rx="3.4" ry="7.8" fill="#e2e2e2" stroke="#fbfbfb" stroke-width="1" transform="rotate(45)"/><ellipse cx="0" cy="-15" rx="3.4" ry="7.8" fill="#e2e2e2" stroke="#fbfbfb" stroke-width="1" transform="rotate(90)"/><ellipse cx="0" cy="-15" rx="3.4" ry="7.8" fill="#e2e2e2" stroke="#fbfbfb" stroke-width="1" transform="rotate(135)"/><ellipse cx="0" cy="-15" rx="3.4" ry="7.8" fill="#e2e2e2" stroke="#fbfbfb" stroke-width="1" transform="rotate(180)"/><ellipse cx="0" cy="-15" rx="3.4" ry="7.8" fill="#e2e2e2" stroke="#fbfbfb" stroke-width="1" transform="rotate(225)"/><ellipse cx="0" cy="-15" rx="3.4" ry="7.8" fill="#e2e2e2" stroke="#fbfbfb" stroke-width="1" transform="rotate(270)"/><ellipse cx="0" cy="-15" rx="3.4" ry="7.8" fill="#e2e2e2" stroke="#fbfbfb" stroke-width="1" transform="rotate(315)"/><circle r="5.2" fill="#ffc000"/></g>
<g transform="translate(1479.0,626.8) rotate(-3)"><ellipse cx="0" cy="-15" rx="3.4" ry="7.8" fill="#e4e4e4" transform="rotate(0)"/><ellipse cx="0" cy="-15" rx="3.4" ry="7.8" fill="#e4e4e4" transform="rotate(45)"/><ellipse cx="0" cy="-15" rx="3.4" ry="7.8" fill="#e4e4e4" transform="rotate(90)"/><ellipse cx="0" cy="-15" rx="3.4" ry="7.8" fill="#e4e4e4" transform="rotate(135)"/><ellipse cx="0" cy="-15" rx="3.4" ry="7.8" fill="#e4e4e4" transform="rotate(180)"/><ellipse cx="0" cy="-15" rx="3.4" ry="7.8" fill="#e4e4e4" transform="rotate(225)"/><ellipse cx="0" cy="-15" rx="3.4" ry="7.8" fill="#e4e4e4" transform="rotate(270)"/><ellipse cx="0" cy="-15" rx="3.4" ry="7.8" fill="#e4e4e4" transform="rotate(315)"/><circle r="5.2" fill="#ffc000"/></g>
<g transform="translate(1610.0,669.5) rotate(-3)"><ellipse cx="0" cy="-15" rx="3.4" ry="7.8" fill="#e2e2e2" stroke="#fbfbfb" stroke-width="1" transform="rotate(0)"/><ellipse cx="0" cy="-15" rx="3.4" ry="7.8" fill="#e2e2e2" stroke="#fbfbfb" stroke-width="1" transform="rotate(45)"/><ellipse cx="0" cy="-15" rx="3.4" ry="7.8" fill="#e2e2e2" stroke="#fbfbfb" stroke-width="1" transform="rotate(90)"/><ellipse cx="0" cy="-15" rx="3.4" ry="7.8" fill="#e2e2e2" stroke="#fbfbfb" stroke-width="1" transform="rotate(135)"/><ellipse cx="0" cy="-15" rx="3.4" ry="7.8" fill="#e2e2e2" stroke="#fbfbfb" stroke-width="1" transform="rotate(180)"/><ellipse cx="0" cy="-15" rx="3.4" ry="7.8" fill="#e2e2e2" stroke="#fbfbfb" stroke-width="1" transform="rotate(225)"/><ellipse cx="0" cy="-15" rx="3.4" ry="7.8" fill="#e2e2e2" stroke="#fbfbfb" stroke-width="1" transform="rotate(270)"/><ellipse cx="0" cy="-15" rx="3.4" ry="7.8" fill="#e2e2e2" stroke="#fbfbfb" stroke-width="1" transform="rotate(315)"/><circle r="5.2" fill="#ffc000"/></g>
<g transform="translate(1550.0,707.4) rotate(-3)"><ellipse cx="0" cy="-15" rx="3.4" ry="7.8" fill="#e2e2e2" stroke="#fbfbfb" stroke-width="1" transform="rotate(0)"/><ellipse cx="0" cy="-15" rx="3.4" ry="7.8" fill="#e2e2e2" stroke="#fbfbfb" stroke-width="1" transform="rotate(45)"/><ellipse cx="0" cy="-15" rx="3.4" ry="7.8" fill="#e2e2e2" stroke="#fbfbfb" stroke-width="1" transform="rotate(90)"/><ellipse cx="0" cy="-15" rx="3.4" ry="7.8" fill="#e2e2e2" stroke="#fbfbfb" stroke-width="1" transform="rotate(135)"/><ellipse cx="0" cy="-15" rx="3.4" ry="7.8" fill="#e2e2e2" stroke="#fbfbfb" stroke-width="1" transform="rotate(180)"/><ellipse cx="0" cy="-15" rx="3.4" ry="7.8" fill="#e2e2e2" stroke="#fbfbfb" stroke-width="1" transform="rotate(225)"/><ellipse cx="0" cy="-15" rx="3.4" ry="7.8" fill="#e2e2e2" stroke="#fbfbfb" stroke-width="1" transform="rotate(270)"/><ellipse cx="0" cy="-15" rx="3.4" ry="7.8" fill="#e2e2e2" stroke="#fbfbfb" stroke-width="1" transform="rotate(315)"/><circle r="5.2" fill="#ffc000"/></g>
<text x="503.5" y="352.0" text-anchor="middle" font-family='"Liberation Sans", sans-serif' font-size="23" fill="#000000">5</text>
<text x="503.5" y="382.0" text-anchor="middle" font-family='"Liberation Sans", sans-serif' font-size="23" fill="#000000">M</text>
<text x="503.5" y="412.0" text-anchor="middle" font-family='"Liberation Sans", sans-serif' font-size="23" fill="#000000">I</text>
<text x="503.5" y="442.0" text-anchor="middle" font-family='"Liberation Sans", sans-serif' font-size="23" fill="#000000">C</text>
<text x="503.5" y="472.0" text-anchor="middle" font-family='"Liberation Sans", sans-serif' font-size="23" fill="#000000">R</text>
<text x="503.5" y="502.0" text-anchor="middle" font-family='"Liberation Sans", sans-serif' font-size="23" fill="#000000">O</text>
<text x="503.5" y="532.0" text-anchor="middle" font-family='"Liberation Sans", sans-serif' font-size="23" fill="#000000">N</text>
<text x="503.5" y="592.0" text-anchor="middle" font-family='"Liberation Sans", sans-serif' font-size="23" fill="#000000">F</text>
<text x="503.5" y="622.0" text-anchor="middle" font-family='"Liberation Sans", sans-serif' font-size="23" fill="#000000">I</text>
<text x="503.5" y="652.0" text-anchor="middle" font-family='"Liberation Sans", sans-serif' font-size="23" fill="#000000">L</text>
<text x="503.5" y="682.0" text-anchor="middle" font-family='"Liberation Sans", sans-serif' font-size="23" fill="#000000">T</text>
<text x="503.5" y="712.0" text-anchor="middle" font-family='"Liberation Sans", sans-serif' font-size="23" fill="#000000">E</text>
<text x="503.5" y="742.0" text-anchor="middle" font-family='"Liberation Sans", sans-serif' font-size="23" fill="#000000">R</text>
<text x="789.5" y="356.0" text-anchor="middle" font-family='"Liberation Sans", sans-serif' font-size="23" fill="#000000">S</text>
<text x="789.5" y="386.0" text-anchor="middle" font-family='"Liberation Sans", sans-serif' font-size="23" fill="#000000">E</text>
<text x="789.5" y="416.0" text-anchor="middle" font-family='"Liberation Sans", sans-serif' font-size="23" fill="#000000">D</text>
<text x="789.5" y="446.0" text-anchor="middle" font-family='"Liberation Sans", sans-serif' font-size="23" fill="#000000">I</text>
<text x="789.5" y="476.0" text-anchor="middle" font-family='"Liberation Sans", sans-serif' font-size="23" fill="#000000">M</text>
<text x="789.5" y="506.0" text-anchor="middle" font-family='"Liberation Sans", sans-serif' font-size="23" fill="#000000">E</text>
<text x="789.5" y="536.0" text-anchor="middle" font-family='"Liberation Sans", sans-serif' font-size="23" fill="#000000">N</text>
<text x="789.5" y="566.0" text-anchor="middle" font-family='"Liberation Sans", sans-serif' font-size="23" fill="#000000">T</text>
<text x="789.5" y="626.0" text-anchor="middle" font-family='"Liberation Sans", sans-serif' font-size="23" fill="#000000">F</text>
<text x="789.5" y="656.0" text-anchor="middle" font-family='"Liberation Sans", sans-serif' font-size="23" fill="#000000">I</text>
<text x="789.5" y="686.0" text-anchor="middle" font-family='"Liberation Sans", sans-serif' font-size="23" fill="#000000">L</text>
<text x="789.5" y="716.0" text-anchor="middle" font-family='"Liberation Sans", sans-serif' font-size="23" fill="#000000">T</text>
<text x="789.5" y="746.0" text-anchor="middle" font-family='"Liberation Sans", sans-serif' font-size="23" fill="#000000">E</text>
<text x="789.5" y="776.0" text-anchor="middle" font-family='"Liberation Sans", sans-serif' font-size="23" fill="#000000">R</text>
<text x="1061.0" y="339.0" text-anchor="middle" font-family='"Liberation Sans", sans-serif' font-size="23" fill="#000000">P</text>
<text x="1061.0" y="369.0" text-anchor="middle" font-family='"Liberation Sans", sans-serif' font-size="23" fill="#000000">R</text>
<text x="1061.0" y="399.0" text-anchor="middle" font-family='"Liberation Sans", sans-serif' font-size="23" fill="#000000">E</text>
<text x="1061.0" y="459.0" text-anchor="middle" font-family='"Liberation Sans", sans-serif' font-size="23" fill="#000000">C</text>
<text x="1061.0" y="489.0" text-anchor="middle" font-family='"Liberation Sans", sans-serif' font-size="23" fill="#000000">A</text>
<text x="1061.0" y="519.0" text-anchor="middle" font-family='"Liberation Sans", sans-serif' font-size="23" fill="#000000">R</text>
<text x="1061.0" y="549.0" text-anchor="middle" font-family='"Liberation Sans", sans-serif' font-size="23" fill="#000000">B</text>
<text x="1061.0" y="579.0" text-anchor="middle" font-family='"Liberation Sans", sans-serif' font-size="23" fill="#000000">O</text>
<text x="1061.0" y="609.0" text-anchor="middle" font-family='"Liberation Sans", sans-serif' font-size="23" fill="#000000">N</text>
<text x="1061.0" y="639.0" text-anchor="middle" font-family='"Liberation Sans", sans-serif' font-size="23" fill="#000000">F</text>
<text x="1061.0" y="669.0" text-anchor="middle" font-family='"Liberation Sans", sans-serif' font-size="23" fill="#000000">I</text>
<text x="1061.0" y="699.0" text-anchor="middle" font-family='"Liberation Sans", sans-serif' font-size="23" fill="#000000">L</text>
<text x="1061.0" y="729.0" text-anchor="middle" font-family='"Liberation Sans", sans-serif' font-size="23" fill="#000000">T</text>
<text x="1061.0" y="759.0" text-anchor="middle" font-family='"Liberation Sans", sans-serif' font-size="23" fill="#000000">E</text>
<text x="1061.0" y="789.0" text-anchor="middle" font-family='"Liberation Sans", sans-serif' font-size="23" fill="#000000">R</text>
<text x="1333.0" y="392.0" text-anchor="middle" font-family='"Liberation Sans", sans-serif' font-size="23" fill="#000000">R</text>
<text x="1333.0" y="422.0" text-anchor="middle" font-family='"Liberation Sans", sans-serif' font-size="23" fill="#000000">O</text>
<text x="1333.0" y="482.0" text-anchor="middle" font-family='"Liberation Sans", sans-serif' font-size="23" fill="#000000">M</text>
<text x="1333.0" y="512.0" text-anchor="middle" font-family='"Liberation Sans", sans-serif' font-size="23" fill="#000000">E</text>
<text x="1333.0" y="542.0" text-anchor="middle" font-family='"Liberation Sans", sans-serif' font-size="23" fill="#000000">M</text>
<text x="1333.0" y="572.0" text-anchor="middle" font-family='"Liberation Sans", sans-serif' font-size="23" fill="#000000">B</text>
<text x="1333.0" y="602.0" text-anchor="middle" font-family='"Liberation Sans", sans-serif' font-size="23" fill="#000000">R</text>
<text x="1333.0" y="632.0" text-anchor="middle" font-family='"Liberation Sans", sans-serif' font-size="23" fill="#000000">A</text>
<text x="1333.0" y="662.0" text-anchor="middle" font-family='"Liberation Sans", sans-serif' font-size="23" fill="#000000">N</text>
<text x="1333.0" y="692.0" text-anchor="middle" font-family='"Liberation Sans", sans-serif' font-size="23" fill="#000000">E</text>
<text x="1333.0" y="722.0" text-anchor="middle" font-family='"Liberation Sans", sans-serif' font-size="23" fill="#000000">&amp;</text>
<text x="1333.0" y="752.0" text-anchor="middle" font-family='"Liberation Sans", sans-serif' font-size="23" fill="#000000">U</text>
<text x="1333.0" y="782.0" text-anchor="middle" font-family='"Liberation Sans", sans-serif' font-size="23" fill="#000000">V</text>
<text x="1582.0" y="384.0" text-anchor="middle" font-family='"Liberation Sans", sans-serif' font-size="23" fill="#000000">T</text>
<text x="1582.0" y="414.0" text-anchor="middle" font-family='"Liberation Sans", sans-serif' font-size="23" fill="#000000">A</text>
<text x="1582.0" y="444.0" text-anchor="middle" font-family='"Liberation Sans", sans-serif' font-size="23" fill="#000000">S</text>
<text x="1582.0" y="474.0" text-anchor="middle" font-family='"Liberation Sans", sans-serif' font-size="23" fill="#000000">T</text>
<text x="1582.0" y="504.0" text-anchor="middle" font-family='"Liberation Sans", sans-serif' font-size="23" fill="#000000">E</text>
<text x="1582.0" y="564.0" text-anchor="middle" font-family='"Liberation Sans", sans-serif' font-size="23" fill="#000000">&amp;</text>
<text x="1582.0" y="624.0" text-anchor="middle" font-family='"Liberation Sans", sans-serif' font-size="23" fill="#000000">O</text>
<text x="1582.0" y="654.0" text-anchor="middle" font-family='"Liberation Sans", sans-serif' font-size="23" fill="#000000">D</text>
<text x="1582.0" y="684.0" text-anchor="middle" font-family='"Liberation Sans", sans-serif' font-size="23" fill="#000000">O</text>
<text x="1582.0" y="714.0" text-anchor="middle" font-family='"Liberation Sans", sans-serif' font-size="23" fill="#000000">U</text>
<text x="1582.0" y="744.0" text-anchor="middle" font-family='"Liberation Sans", sans-serif' font-size="23" fill="#000000">R</text>
<polyline points="177.6,339 177.6,490.4 340.4,490.4" fill="none" stroke="#a6a6a6" stroke-width="1.3"/>
<polyline points="634,894.4 670.3,894.4 670.3,602" fill="none" stroke="#a6a6a6" stroke-width="1.3"/>
<line x1="935.3" y1="874.4" x2="935.3" y2="521" stroke="#a6a6a6" stroke-width="1.3"/>
<line x1="1223.3" y1="875" x2="1223.3" y2="544" stroke="#a6a6a6" stroke-width="1.3"/>
<line x1="1742.7" y1="692.7" x2="1560.7" y2="449.9" stroke="#9a9a9a" stroke-width="1.1"/>
<line x1="1742.7" y1="754.9" x2="1610" y2="669.5" stroke="#9a9a9a" stroke-width="1.1"/>
<rect x="23.7" y="298.3" width="322.3" height="40.7" fill="#f8cbad"/><text x="37.7" y="326.3" font-family='"Liberation Sans", sans-serif' font-size="18" fill="#000000" textLength="291.8" lengthAdjust="spacingAndGlyphs">SEDIMENTS (Above 5Microns size)</text>
<rect x="312.0" y="874.4" width="322.0" height="40.0" fill="#fff2cc"/><text x="326.1" y="902.0" font-family='"Liberation Sans", sans-serif' font-size="18" fill="#000000" textLength="291.0" lengthAdjust="spacingAndGlyphs">SEDIMENTS (Above 3Microns size)</text>
<rect x="774.0" y="874.4" width="322.0" height="40.0" fill="#c5e0b4"/><text x="841.1" y="902.0" font-family='"Liberation Sans", sans-serif' font-size="18" fill="#000000" textLength="189.0" lengthAdjust="spacingAndGlyphs">CHEMICALS &amp; ODOUR</text>
<rect x="1151.0" y="875.0" width="321.6" height="39.6" fill="#d9d9d9"/><text x="1183.5" y="902.0" font-family='"Liberation Sans", sans-serif' font-size="18" fill="#000000" textLength="256.6" lengthAdjust="spacingAndGlyphs">HARDNESS,VIRUS &amp; BACTERIA</text>
<rect x="1742.7" y="679.1" width="191.3" height="39.9" fill="#b4c7e7"/><text x="1757.5" y="705.9" font-family='"Liberation Sans", sans-serif' font-size="18" fill="#000000" textLength="138.4" lengthAdjust="spacingAndGlyphs">NATURAL TASTE</text>
<rect x="1742.7" y="734.4" width="191.3" height="40.2" fill="#f4b183"/><text x="1757.5" y="761.8" font-family='"Liberation Sans", sans-serif' font-size="18" fill="#000000" textLength="151.8" lengthAdjust="spacingAndGlyphs">NATURAL ODOUR</text>
<path d="M1699.6,506 C1690,490 1690,455 1712,432 C1730,410 1752,400 1770,400 C1795,400 1818,412 1831.2,430 C1840,425 1855,425 1866,430 C1880,436 1893,447 1900.5,460 C1915,455 1933,466 1942,481 C1947,490 1948,500 1947.4,506 Z" fill="#9dc3e6" stroke="#5b9bd5" stroke-width="1.2"/>
<text x="1732" y="484.5" font-family='"Liberation Sans", sans-serif' font-size="32" fill="#000000" textLength="158.5" lengthAdjust="spacingAndGlyphs">Soft water</text>
<path d="M1787.6,516.1 C1790.3,524.5 1798.4,528.9 1798.4,538.6 A10.8,10.8 0 0 1 1776.8,538.6 C1776.8,528.9 1784.9,524.5 1787.6,516.1 Z" fill="#e7e6e6" stroke="#2e75b6" stroke-width="1"/>
<path d="M1824.9,516.1 C1827.6,524.5 1835.8,528.9 1835.8,538.6 A10.8,10.8 0 0 1 1814.1,538.6 C1814.1,528.9 1822.2,524.5 1824.9,516.1 Z" fill="#e7e6e6" stroke="#2e75b6" stroke-width="1"/>
<path d="M1862.4,516.1 C1865.1,524.5 1873.2,528.9 1873.2,538.6 A10.8,10.8 0 0 1 1851.6,538.6 C1851.6,528.9 1859.7,524.5 1862.4,516.1 Z" fill="#e7e6e6" stroke="#2e75b6" stroke-width="1"/>
<path d="M1937.4,516.1 C1940.1,524.5 1948.2,528.9 1948.2,538.6 A10.8,10.8 0 0 1 1926.6,538.6 C1926.6,528.9 1934.7,524.5 1937.4,516.1 Z" fill="#e7e6e6" stroke="#2e75b6" stroke-width="1"/>
<path d="M1732.5,567.9 C1735.2,576.2 1743.3,580.7 1743.3,590.4 A10.8,10.8 0 0 1 1721.7,590.4 C1721.7,580.7 1729.8,576.2 1732.5,567.9 Z" fill="#e7e6e6" stroke="#2e75b6" stroke-width="1"/>
<path d="M1807.3,567.9 C1810.0,576.2 1818.1,580.7 1818.1,590.4 A10.8,10.8 0 0 1 1796.5,590.4 C1796.5,580.7 1804.6,576.2 1807.3,567.9 Z" fill="#e7e6e6" stroke="#2e75b6" stroke-width="1"/>
<path d="M1882.5,567.9 C1885.2,576.2 1893.3,580.7 1893.3,590.4 A10.8,10.8 0 0 1 1871.7,590.4 C1871.7,580.7 1879.8,576.2 1882.5,567.9 Z" fill="#e7e6e6" stroke="#2e75b6" stroke-width="1"/>
<path d="M1919.6,567.9 C1922.3,576.2 1930.4,580.7 1930.4,590.4 A10.8,10.8 0 0 1 1908.8,590.4 C1908.8,580.7 1916.9,576.2 1919.6,567.9 Z" fill="#e7e6e6" stroke="#2e75b6" stroke-width="1"/>
</svg></body></html>
